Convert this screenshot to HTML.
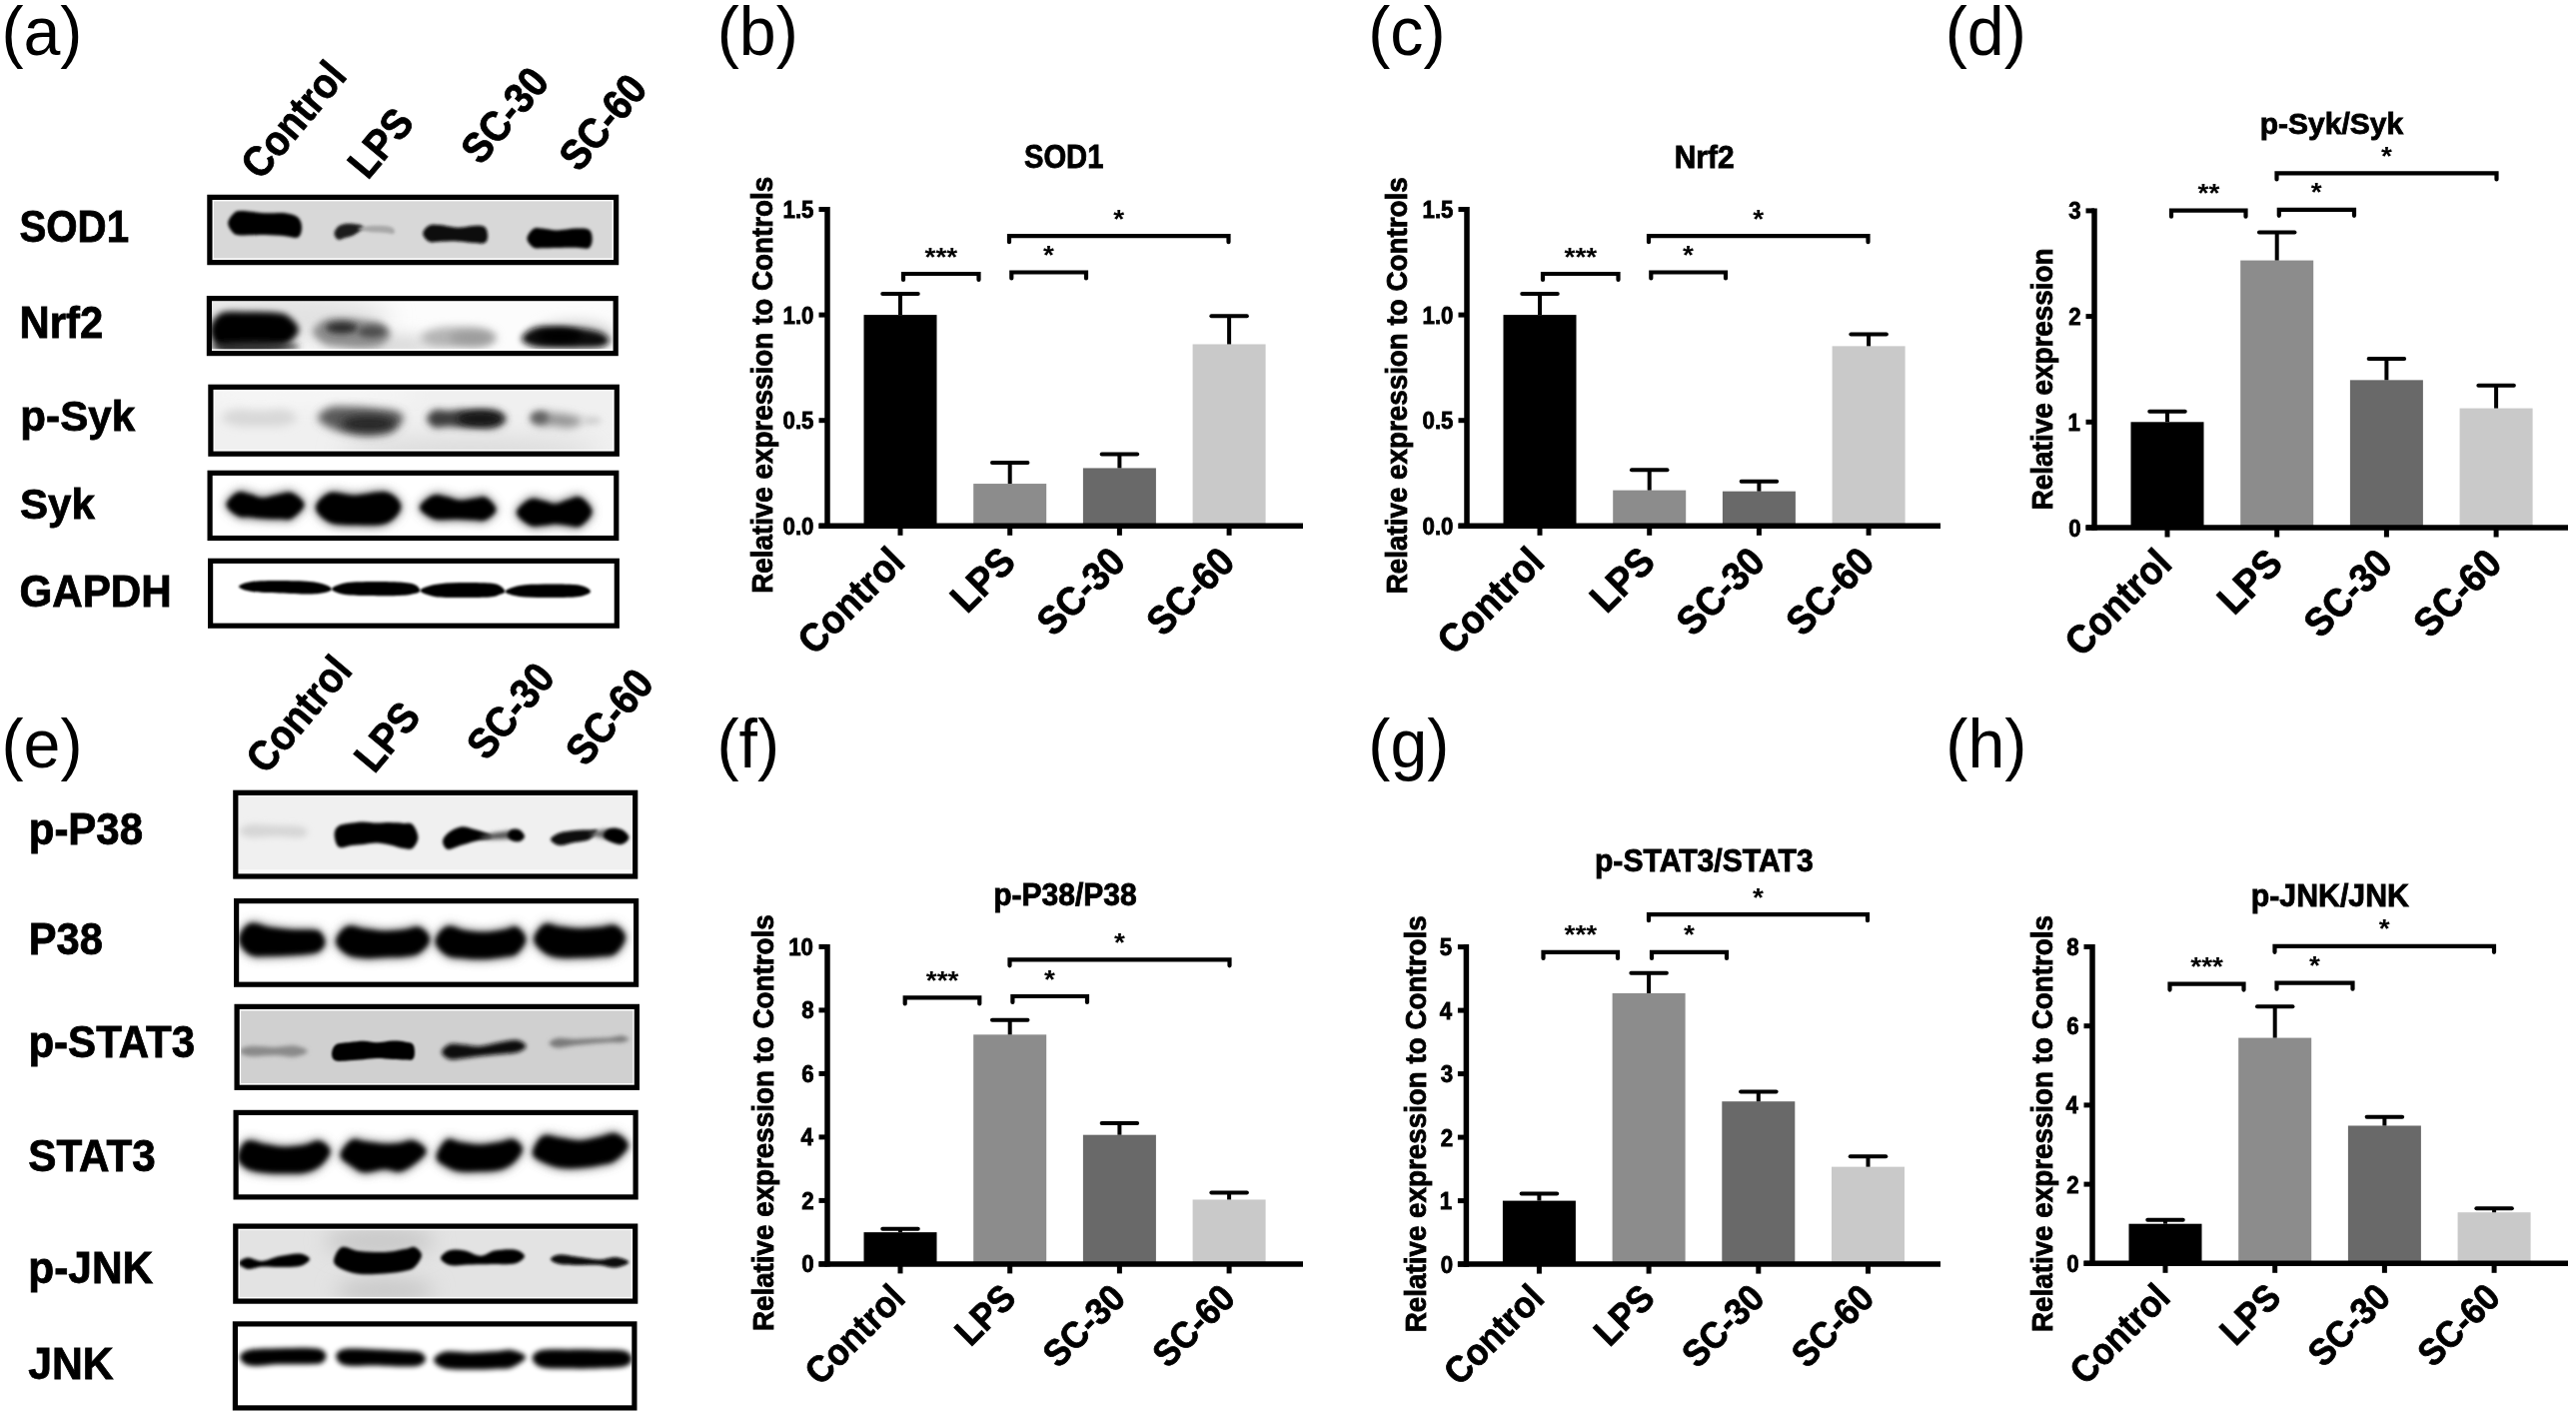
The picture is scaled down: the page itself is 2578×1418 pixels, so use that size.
<!DOCTYPE html><html><head><meta charset="utf-8"><style>html,body{margin:0;padding:0;background:#fff;width:2578px;height:1418px;overflow:hidden;position:relative}</style></head><body><svg width="2578" height="1418" viewBox="0 0 2578 1418" style="position:absolute;left:0;top:0;filter:grayscale(1)">
<defs>
<filter id="b1" x="-50%" y="-150%" width="200%" height="400%"><feGaussianBlur stdDeviation="1"/></filter>
<filter id="b1_2" x="-50%" y="-150%" width="200%" height="400%"><feGaussianBlur stdDeviation="1.2"/></filter>
<filter id="b1_5" x="-50%" y="-150%" width="200%" height="400%"><feGaussianBlur stdDeviation="1.5"/></filter>
<filter id="b2" x="-50%" y="-150%" width="200%" height="400%"><feGaussianBlur stdDeviation="2"/></filter>
<filter id="b2_5" x="-50%" y="-150%" width="200%" height="400%"><feGaussianBlur stdDeviation="2.5"/></filter>
<filter id="b3" x="-50%" y="-150%" width="200%" height="400%"><feGaussianBlur stdDeviation="3"/></filter>
<filter id="b3_5" x="-50%" y="-150%" width="200%" height="400%"><feGaussianBlur stdDeviation="3.5"/></filter>
<filter id="b4" x="-50%" y="-150%" width="200%" height="400%"><feGaussianBlur stdDeviation="4"/></filter>
<filter id="b5" x="-50%" y="-150%" width="200%" height="400%"><feGaussianBlur stdDeviation="5"/></filter>
<filter id="b6" x="-50%" y="-150%" width="200%" height="400%"><feGaussianBlur stdDeviation="6"/></filter>
<filter id="b8" x="-50%" y="-150%" width="200%" height="400%"><feGaussianBlur stdDeviation="8"/></filter>
<filter id="b10" x="-50%" y="-150%" width="200%" height="400%"><feGaussianBlur stdDeviation="10"/></filter>
<filter id="b12" x="-50%" y="-150%" width="200%" height="400%"><feGaussianBlur stdDeviation="12"/></filter>
</defs>
<rect x="0" y="0" width="2578" height="1418" fill="#fff"/>
<style>text[font-weight="bold"]{stroke:#000;stroke-width:0.8px}</style><g font-family="Liberation Sans, sans-serif" fill="#000">
<text transform="translate(1.42,55) scale(0.975,1)" font-size="68" font-weight="normal">(a)</text>
<text transform="translate(717.72,55) scale(0.975,1)" font-size="68" font-weight="normal">(b)</text>
<text transform="translate(1369.22,55) scale(0.975,1)" font-size="68" font-weight="normal">(c)</text>
<text transform="translate(1946.72,55) scale(0.975,1)" font-size="68" font-weight="normal">(d)</text>
<text transform="translate(1.52,768) scale(0.975,1)" font-size="68" font-weight="normal">(e)</text>
<text transform="translate(717.42,768) scale(0.975,1)" font-size="68" font-weight="normal">(f)</text>
<text transform="translate(1369.32,768) scale(0.975,1)" font-size="68" font-weight="normal">(g)</text>
<text transform="translate(1947.32,768) scale(0.975,1)" font-size="68" font-weight="normal">(h)</text>
<text transform="translate(19.42,242.20) scale(0.8892,1)" font-size="45.29" font-weight="bold">SOD1</text>
<text transform="translate(19.61,337.70) scale(0.9622,1)" font-size="43.45" font-weight="bold">Nrf2</text>
<text transform="translate(20.36,430.50) scale(0.9798,1)" font-size="43.03" font-weight="bold">p-Syk</text>
<text transform="translate(20.02,518.50) scale(0.9787,1)" font-size="43.03" font-weight="bold">Syk</text>
<text transform="translate(19.41,606.50) scale(0.9468,1)" font-size="44.57" font-weight="bold">GAPDH</text>
<text transform="translate(348.70,76.80) rotate(-50) scale(0.9000,1)" font-size="42.70" font-weight="bold" text-anchor="end">Control</text>
<text transform="translate(416.00,123.80) rotate(-50) scale(0.9000,1)" font-size="42.70" font-weight="bold" text-anchor="end">LPS</text>
<text transform="translate(551.30,83.00) rotate(-50) scale(0.9000,1)" font-size="42.70" font-weight="bold" text-anchor="end">SC-30</text>
<text transform="translate(649.60,90.00) rotate(-50) scale(0.9000,1)" font-size="42.70" font-weight="bold" text-anchor="end">SC-60</text>
<clipPath id="c1"><rect x="212.5" y="200.0" width="401.5" height="60.0"/></clipPath>
<rect x="207.3" y="194.8" width="411.9" height="70.4" fill="#d8d8d8"/>
<g clip-path="url(#c1)">
<path d="M228.2,223.4 C228.2,220.0 231.8,215.3 234.2,213.2 C236.6,211.1 237.6,211.0 242.7,211.0 C247.8,211.0 257.8,212.8 264.9,213.2 C272.0,213.6 279.8,212.5 285.4,213.2 C290.9,213.9 295.4,215.1 298.2,217.5 C301.0,219.9 302.0,224.4 302.0,227.7 C302.0,231.0 301.0,236.1 298.2,237.5 C295.4,238.9 290.9,236.6 285.4,236.2 C279.8,235.8 272.0,235.1 264.9,235.0 C257.8,234.9 247.8,235.6 242.7,235.4 C237.6,235.2 236.6,235.7 234.2,233.7 C231.8,231.7 228.2,226.8 228.2,223.4 Z" fill="#000" filter="url(#b1_5)"/>
<path d="M334.5,233.7 C334.5,231.5 336.5,228.4 338.3,226.8 C340.1,225.2 342.6,224.4 345.2,223.9 C347.8,223.4 351.1,223.7 353.7,223.9 C356.2,224.1 358.8,224.4 360.5,225.1 C362.2,225.8 364.0,227.0 364.0,228.0 C364.0,229.0 362.2,229.9 360.5,231.1 C358.8,232.3 356.2,234.2 353.7,235.4 C351.1,236.6 347.8,237.3 345.2,238.0 C342.6,238.7 340.1,240.4 338.3,239.7 C336.5,239.0 334.5,235.8 334.5,233.7 Z" fill="#1a1a1a" filter="url(#b1_5)"/>
<path d="M358.0,229.0 C358.0,228.0 365.5,226.5 370.0,226.0 C374.5,225.5 381.2,225.7 385.0,226.0 C388.8,226.3 391.3,227.0 393.0,228.0 C394.7,229.0 395.0,231.0 395.0,232.0 C395.0,233.0 394.7,233.8 393.0,234.0 C391.3,234.2 388.8,233.3 385.0,233.0 C381.2,232.7 374.5,232.7 370.0,232.0 C365.5,231.3 358.0,230.0 358.0,229.0 Z" fill="#a8a8a8" filter="url(#b1_5)"/>
<path d="M423.2,233.7 C423.2,231.0 426.8,227.0 429.6,225.6 C432.4,224.1 435.2,224.7 439.9,225.1 C444.6,225.5 452.1,227.6 457.8,227.7 C463.5,227.8 469.4,226.0 474.0,225.9 C478.6,225.9 482.8,225.5 485.1,227.2 C487.5,229.0 488.1,233.6 488.1,236.2 C488.1,238.8 487.5,241.9 485.1,243.1 C482.8,244.2 478.6,243.4 474.0,243.1 C469.4,242.8 463.5,241.6 457.8,241.4 C452.1,241.2 444.6,241.7 439.9,241.8 C435.2,241.9 432.4,243.2 429.6,241.8 C426.8,240.5 423.2,236.4 423.2,233.7 Z" fill="#0c0c0c" filter="url(#b1_5)"/>
<path d="M527.4,238.8 C527.4,235.7 531.3,230.7 533.8,229.0 C536.3,227.3 538.4,228.3 542.4,228.6 C546.4,228.8 552.0,230.5 557.7,230.5 C563.4,230.5 571.2,228.7 576.5,228.6 C581.8,228.5 586.6,228.1 589.3,229.8 C592.0,231.6 592.7,235.7 592.7,238.8 C592.7,241.9 592.0,246.7 589.3,248.2 C586.6,249.7 581.8,247.8 576.5,247.8 C571.2,247.7 563.4,247.9 557.7,248.0 C552.0,248.1 546.4,248.2 542.4,248.2 C538.4,248.2 536.3,249.3 533.8,247.8 C531.3,246.2 527.4,241.9 527.4,238.8 Z" fill="#000" filter="url(#b1_5)"/>
</g>
<rect x="212.5" y="258.4" width="401.5" height="1.6" fill="#fff"/>
<rect x="212.5" y="200.0" width="401.5" height="1.4" fill="#fff"/>
<rect x="212.5" y="200.0" width="1.4" height="60.0" fill="#fff"/>
<rect x="612.6" y="200.0" width="1.4" height="60.0" fill="#fff"/>
<rect x="209.90" y="197.40" width="406.70" height="65.20" fill="none" stroke="#000" stroke-width="5.2"/>
<clipPath id="c2"><rect x="212.0" y="301.2" width="401.6" height="49.8"/></clipPath>
<rect x="206.8" y="296.0" width="412.0" height="60.2" fill="#fcfcfc"/>
<g clip-path="url(#c2)">
<ellipse cx="280.0" cy="318.0" rx="110.0" ry="26.0" fill="#e2e2e2" filter="url(#b12)"/>
<ellipse cx="380.0" cy="345.0" rx="60.0" ry="10.0" fill="#d6d6d6" filter="url(#b8)"/>
<path d="M210.0,331.0 C210.0,325.2 214.5,317.2 220.0,314.0 C225.5,310.8 234.2,312.2 243.0,312.0 C251.8,311.8 265.5,311.8 273.0,312.5 C280.5,313.2 283.7,313.1 288.0,316.0 C292.3,318.9 299.0,325.3 299.0,330.0 C299.0,334.7 292.3,341.0 288.0,344.0 C283.7,347.0 280.5,347.0 273.0,348.0 C265.5,349.0 251.8,349.8 243.0,350.0 C234.2,350.2 225.5,352.2 220.0,349.0 C214.5,345.8 210.0,336.8 210.0,331.0 Z" fill="#000" filter="url(#b3)"/>
<ellipse cx="255.0" cy="347.0" rx="45.0" ry="5.0" fill="#333" filter="url(#b3)"/>
<path d="M313.0,332.0 C313.0,328.0 319.7,322.3 325.0,320.0 C330.3,317.7 338.3,318.0 345.0,318.0 C351.7,318.0 358.8,319.2 365.0,320.0 C371.2,320.8 377.7,320.7 382.0,323.0 C386.3,325.3 391.0,330.3 391.0,334.0 C391.0,337.7 386.3,342.7 382.0,345.0 C377.7,347.3 371.2,347.7 365.0,348.0 C358.8,348.3 351.7,347.7 345.0,347.0 C338.3,346.3 330.3,346.5 325.0,344.0 C319.7,341.5 313.0,336.0 313.0,332.0 Z" fill="#8e8e8e" filter="url(#b3_5)"/>
<ellipse cx="342.0" cy="328.0" rx="16.0" ry="6.0" fill="#2e2e2e" filter="url(#b3)"/>
<ellipse cx="372.0" cy="332.0" rx="14.0" ry="6.0" fill="#4e4e4e" filter="url(#b3)"/>
<path d="M421.0,338.0 C421.0,335.0 428.5,330.8 435.0,329.0 C441.5,327.2 451.7,327.0 460.0,327.0 C468.3,327.0 478.8,327.2 485.0,329.0 C491.2,330.8 497.0,335.0 497.0,338.0 C497.0,341.0 491.2,345.3 485.0,347.0 C478.8,348.7 468.3,348.0 460.0,348.0 C451.7,348.0 441.5,348.7 435.0,347.0 C428.5,345.3 421.0,341.0 421.0,338.0 Z" fill="#b4b4b4" filter="url(#b4)"/>
<ellipse cx="472.0" cy="338.0" rx="22.0" ry="6.0" fill="#9a9a9a" filter="url(#b4)"/>
<ellipse cx="575.0" cy="334.0" rx="40.0" ry="14.0" fill="#d8d8d8" filter="url(#b6)"/>
<path d="M522.0,339.0 C522.0,335.8 528.7,330.0 535.0,328.0 C541.3,326.0 551.7,326.8 560.0,327.0 C568.3,327.2 578.0,328.0 585.0,329.0 C592.0,330.0 597.8,331.0 602.0,333.0 C606.2,335.0 610.0,338.7 610.0,341.0 C610.0,343.3 606.2,345.8 602.0,347.0 C597.8,348.2 592.0,347.8 585.0,348.0 C578.0,348.2 568.3,348.2 560.0,348.0 C551.7,347.8 541.3,348.5 535.0,347.0 C528.7,345.5 522.0,342.2 522.0,339.0 Z" fill="#101010" filter="url(#b3)"/>
<ellipse cx="560.0" cy="336.0" rx="22.0" ry="7.0" fill="#000" filter="url(#b3)"/>
</g>
<rect x="212.0" y="349.4" width="401.6" height="1.6" fill="#fff"/>
<rect x="209.40" y="298.60" width="406.80" height="55.00" fill="none" stroke="#000" stroke-width="5.2"/>
<clipPath id="c3"><rect x="213.5" y="389.9" width="401.2" height="61.7"/></clipPath>
<rect x="208.3" y="384.7" width="411.6" height="72.1" fill="#f0f0f0"/>
<g clip-path="url(#c3)">
<ellipse cx="300.0" cy="395.0" rx="120.0" ry="10.0" fill="#f8f8f8" filter="url(#b10)"/>
<ellipse cx="470.0" cy="452.0" rx="130.0" ry="14.0" fill="#d9d9d9" filter="url(#b12)"/>
<path d="M221.7,418.0 C221.7,415.3 228.6,411.2 235.0,410.0 C241.4,408.8 251.7,411.0 260.0,411.0 C268.3,411.0 278.8,408.8 285.0,410.0 C291.2,411.2 297.0,415.3 297.0,418.0 C297.0,420.7 291.2,424.5 285.0,426.0 C278.8,427.5 268.3,427.0 260.0,427.0 C251.7,427.0 241.4,427.5 235.0,426.0 C228.6,424.5 221.7,420.7 221.7,418.0 Z" fill="#d8d8d8" filter="url(#b4)"/>
<path d="M318.0,418.0 C318.0,414.7 324.7,409.8 330.0,408.0 C335.3,406.2 343.3,407.0 350.0,407.0 C356.7,407.0 363.3,407.5 370.0,408.0 C376.7,408.5 385.0,409.2 390.0,410.0 C395.0,410.8 397.7,411.7 400.0,413.0 C402.3,414.3 404.0,416.0 404.0,418.0 C404.0,420.0 402.3,422.5 400.0,425.0 C397.7,427.5 395.0,431.2 390.0,433.0 C385.0,434.8 376.7,435.8 370.0,436.0 C363.3,436.2 356.7,435.3 350.0,434.0 C343.3,432.7 335.3,430.7 330.0,428.0 C324.7,425.3 318.0,421.3 318.0,418.0 Z" fill="#5a5a5a" filter="url(#b4)"/>
<ellipse cx="369.0" cy="424.0" rx="27.0" ry="8.0" fill="#262626" filter="url(#b4)"/>
<path d="M427.0,419.0 C427.0,416.1 431.5,411.7 435.0,410.3 C438.5,408.9 443.0,411.0 448.0,410.9 C453.0,410.8 457.2,409.7 465.0,409.5 C472.8,409.3 488.0,408.1 495.0,409.7 C502.0,411.3 507.0,415.9 507.0,419.0 C507.0,422.1 502.0,426.9 495.0,428.5 C488.0,430.1 472.8,428.5 465.0,428.3 C457.2,428.1 453.0,427.2 448.0,427.1 C443.0,427.0 438.5,429.2 435.0,427.9 C431.5,426.5 427.0,421.9 427.0,419.0 Z" fill="#3c3c3c" filter="url(#b3_5)"/>
<ellipse cx="480.0" cy="419.0" rx="22.0" ry="7.0" fill="#161616" filter="url(#b3)"/>
<path d="M530.5,419.0 C530.5,416.5 536.4,412.5 540.0,411.5 C543.6,410.5 547.0,412.4 552.0,413.0 C557.0,413.6 564.7,413.7 570.0,415.0 C575.3,416.3 584.0,418.8 584.0,421.0 C584.0,423.2 575.3,427.2 570.0,428.0 C564.7,428.8 557.0,426.2 552.0,426.0 C547.0,425.8 543.6,427.7 540.0,426.5 C536.4,425.3 530.5,421.5 530.5,419.0 Z" fill="#959595" filter="url(#b4)"/>
<ellipse cx="540.0" cy="418.0" rx="9.0" ry="6.0" fill="#606060" filter="url(#b3)"/>
<ellipse cx="592.0" cy="421.0" rx="10.0" ry="4.0" fill="#cfcfcf" filter="url(#b3)"/>
</g>
<rect x="213.5" y="450.0" width="401.2" height="1.6" fill="#fff"/>
<rect x="213.5" y="389.9" width="401.2" height="1.4" fill="#fff"/>
<rect x="213.5" y="389.9" width="1.4" height="61.7" fill="#fff"/>
<rect x="613.3" y="389.9" width="1.4" height="61.7" fill="#fff"/>
<rect x="210.90" y="387.30" width="406.40" height="66.90" fill="none" stroke="#000" stroke-width="5.2"/>
<clipPath id="c4"><rect x="212.7" y="475.9" width="401.5" height="60.0"/></clipPath>
<rect x="207.5" y="470.7" width="411.9" height="70.4" fill="#ffffff"/>
<g clip-path="url(#c4)">
<path d="M225.4,505.0 C225.4,500.5 233.9,493.0 238.0,491.0 C242.1,489.0 245.8,491.9 250.0,492.8 C254.2,493.7 258.0,496.4 263.0,496.4 C268.0,496.4 275.2,493.6 280.0,492.8 C284.8,492.0 287.7,489.6 292.0,491.6 C296.3,493.6 305.6,500.2 305.6,505.0 C305.6,509.8 296.3,517.7 292.0,520.4 C287.7,523.1 284.8,521.0 280.0,521.0 C275.2,521.0 268.0,520.7 263.0,520.4 C258.0,520.1 254.2,519.6 250.0,519.2 C245.8,518.8 242.1,520.4 238.0,518.0 C233.9,515.6 225.4,509.5 225.4,505.0 Z" fill="#707070" filter="url(#b5)"/>
<path d="M226.8,505.0 C226.8,501.2 234.1,494.7 238.0,493.0 C241.9,491.3 245.8,493.9 250.0,494.8 C254.2,495.7 258.0,498.4 263.0,498.4 C268.0,498.4 275.2,495.6 280.0,494.8 C284.8,494.0 288.0,491.9 292.0,493.6 C296.0,495.3 304.2,500.9 304.2,505.0 C304.2,509.1 296.0,516.1 292.0,518.4 C288.0,520.7 284.8,519.0 280.0,519.0 C275.2,519.0 268.0,518.7 263.0,518.4 C258.0,518.1 254.2,517.6 250.0,517.2 C245.8,516.8 241.9,518.0 238.0,516.0 C234.1,514.0 226.8,508.8 226.8,505.0 Z" fill="#000" filter="url(#b2)"/>
<path d="M314.9,508.0 C314.9,502.5 323.3,493.9 330.0,491.6 C336.7,489.3 345.5,494.1 355.0,494.0 C364.5,493.9 379.1,488.8 387.0,491.0 C394.9,493.2 402.4,501.3 402.4,507.0 C402.4,512.7 394.9,521.9 387.0,525.2 C379.1,528.5 364.5,527.1 355.0,527.0 C345.5,526.9 336.7,527.8 330.0,524.6 C323.3,521.4 314.9,513.5 314.9,508.0 Z" fill="#707070" filter="url(#b5)"/>
<path d="M316.3,508.0 C316.3,503.2 323.6,495.6 330.0,493.6 C336.4,491.6 345.5,496.1 355.0,496.0 C364.5,495.9 379.3,491.2 387.0,493.0 C394.7,494.8 401.0,502.0 401.0,507.0 C401.0,512.0 394.7,520.2 387.0,523.2 C379.3,526.2 364.5,525.1 355.0,525.0 C345.5,524.9 336.4,525.4 330.0,522.6 C323.6,519.8 316.3,512.8 316.3,508.0 Z" fill="#000" filter="url(#b2)"/>
<path d="M418.9,508.0 C418.9,503.5 428.8,496.0 433.7,494.0 C438.6,492.0 443.6,494.9 448.0,495.8 C452.4,496.7 455.9,498.9 460.4,499.1 C464.9,499.3 470.7,497.5 475.0,497.0 C479.3,496.5 482.2,493.9 486.0,496.1 C489.8,498.3 497.6,505.7 497.6,510.0 C497.6,514.3 489.8,520.0 486.0,522.0 C482.2,524.0 479.3,522.1 475.0,522.0 C470.7,521.9 464.9,521.5 460.4,521.4 C455.9,521.3 452.4,521.5 448.0,521.4 C443.6,521.3 438.6,523.0 433.7,520.8 C428.8,518.6 418.9,512.5 418.9,508.0 Z" fill="#707070" filter="url(#b5)"/>
<path d="M420.3,508.0 C420.3,504.2 429.1,497.7 433.7,496.0 C438.3,494.3 443.6,496.9 448.0,497.8 C452.4,498.7 455.9,500.9 460.4,501.1 C464.9,501.3 470.7,499.5 475.0,499.0 C479.3,498.5 482.5,496.3 486.0,498.1 C489.5,499.9 496.2,506.4 496.2,510.0 C496.2,513.6 489.5,518.3 486.0,520.0 C482.5,521.7 479.3,520.1 475.0,520.0 C470.7,519.9 464.9,519.5 460.4,519.4 C455.9,519.3 452.4,519.5 448.0,519.4 C443.6,519.3 438.3,520.7 433.7,518.8 C429.1,516.9 420.3,511.8 420.3,508.0 Z" fill="#000" filter="url(#b2)"/>
<path d="M515.9,513.0 C515.9,508.1 525.8,500.0 530.5,497.8 C535.2,495.6 539.8,498.8 544.0,499.6 C548.2,500.4 551.6,502.8 555.6,502.6 C559.6,502.4 563.8,499.5 568.0,498.4 C572.2,497.3 576.7,493.7 581.0,496.0 C585.3,498.3 593.6,506.7 593.6,512.0 C593.6,517.3 585.3,525.4 581.0,528.0 C576.7,530.6 572.2,527.8 568.0,527.4 C563.8,527.0 559.6,525.9 555.6,525.9 C551.6,525.9 548.2,527.1 544.0,527.4 C539.8,527.6 535.2,529.8 530.5,527.4 C525.8,525.0 515.9,517.9 515.9,513.0 Z" fill="#707070" filter="url(#b5)"/>
<path d="M517.3,513.0 C517.3,508.7 526.0,501.7 530.5,499.8 C535.0,497.9 539.8,500.8 544.0,501.6 C548.2,502.4 551.6,504.8 555.6,504.6 C559.6,504.4 563.8,501.5 568.0,500.4 C572.2,499.3 577.0,496.1 581.0,498.0 C585.0,499.9 592.2,507.3 592.2,512.0 C592.2,516.7 585.0,523.8 581.0,526.0 C577.0,528.2 572.2,525.8 568.0,525.4 C563.8,525.0 559.6,523.9 555.6,523.9 C551.6,523.9 548.2,525.1 544.0,525.4 C539.8,525.6 535.0,527.5 530.5,525.4 C526.0,523.3 517.3,517.3 517.3,513.0 Z" fill="#000" filter="url(#b2)"/>
</g>
<rect x="210.10" y="473.30" width="406.70" height="65.20" fill="none" stroke="#000" stroke-width="5.2"/>
<clipPath id="c5"><rect x="213.2" y="563.9" width="401.5" height="59.7"/></clipPath>
<rect x="208.0" y="558.7" width="411.9" height="70.1" fill="#ffffff"/>
<g clip-path="url(#c5)">
<path d="M239.0,587.0 C239.0,585.3 245.2,583.0 252.0,582.0 C258.8,581.0 270.3,581.0 280.0,581.0 C289.7,581.0 302.5,581.3 310.0,582.0 C317.5,582.7 321.3,583.8 325.0,585.0 C328.7,586.2 332.0,588.2 332.0,589.5 C332.0,590.8 328.7,592.2 325.0,593.0 C321.3,593.8 317.5,594.4 310.0,594.5 C302.5,594.6 289.7,593.9 280.0,593.5 C270.3,593.1 258.8,593.1 252.0,592.0 C245.2,590.9 239.0,588.7 239.0,587.0 Z" fill="#000" filter="url(#b1_2)"/>
<path d="M332.0,589.5 C332.0,587.6 338.7,584.8 345.0,583.5 C351.3,582.2 360.8,582.2 370.0,582.0 C379.2,581.8 392.5,582.0 400.0,582.5 C407.5,583.0 411.6,583.6 415.0,585.0 C418.4,586.4 420.5,589.5 420.5,591.0 C420.5,592.5 418.4,593.2 415.0,594.0 C411.6,594.8 407.5,595.7 400.0,596.0 C392.5,596.3 379.2,596.2 370.0,596.0 C360.8,595.8 351.3,596.1 345.0,595.0 C338.7,593.9 332.0,591.4 332.0,589.5 Z" fill="#000" filter="url(#b1_2)"/>
<path d="M420.5,591.0 C420.5,589.0 428.4,586.3 435.0,585.0 C441.6,583.7 450.8,583.2 460.0,583.0 C469.2,582.8 483.3,583.0 490.0,583.5 C496.7,584.0 497.4,584.6 500.0,586.0 C502.6,587.4 505.5,590.5 505.5,592.0 C505.5,593.5 502.6,594.1 500.0,595.0 C497.4,595.9 496.7,597.0 490.0,597.5 C483.3,598.0 469.2,598.1 460.0,598.0 C450.8,597.9 441.6,598.2 435.0,597.0 C428.4,595.8 420.5,593.0 420.5,591.0 Z" fill="#000" filter="url(#b1_2)"/>
<path d="M505.5,592.0 C505.5,590.2 513.4,587.2 520.0,586.0 C526.6,584.8 535.8,584.7 545.0,584.5 C554.2,584.3 568.0,584.4 575.0,585.0 C582.0,585.6 584.3,586.8 587.0,588.0 C589.7,589.2 591.0,590.8 591.0,592.0 C591.0,593.2 589.7,594.1 587.0,595.0 C584.3,595.9 582.0,597.0 575.0,597.5 C568.0,598.0 554.2,598.1 545.0,598.0 C535.8,597.9 526.6,598.0 520.0,597.0 C513.4,596.0 505.5,593.8 505.5,592.0 Z" fill="#000" filter="url(#b1_2)"/>
</g>
<rect x="210.60" y="561.30" width="406.70" height="64.90" fill="none" stroke="#000" stroke-width="5.2"/>
<text transform="translate(28.76,844.80) scale(0.9474,1)" font-size="44.29" font-weight="bold">p-P38</text>
<text transform="translate(28.78,954.80) scale(0.9400,1)" font-size="44.29" font-weight="bold">P38</text>
<text transform="translate(28.38,1057.90) scale(0.9410,1)" font-size="44.71" font-weight="bold">p-STAT3</text>
<text transform="translate(28.29,1171.50) scale(0.9531,1)" font-size="44.29" font-weight="bold">STAT3</text>
<text transform="translate(28.30,1283.60) scale(0.9664,1)" font-size="43.91" font-weight="bold">p-JNK</text>
<text transform="translate(28.14,1380.10) scale(0.9632,1)" font-size="44.35" font-weight="bold">JNK</text>
<text transform="translate(354.10,671.70) rotate(-50) scale(0.9000,1)" font-size="42.70" font-weight="bold" text-anchor="end">Control</text>
<text transform="translate(422.50,718.00) rotate(-50) scale(0.9000,1)" font-size="42.70" font-weight="bold" text-anchor="end">LPS</text>
<text transform="translate(557.00,679.00) rotate(-50) scale(0.9000,1)" font-size="42.70" font-weight="bold" text-anchor="end">SC-30</text>
<text transform="translate(656.00,685.00) rotate(-50) scale(0.9000,1)" font-size="42.70" font-weight="bold" text-anchor="end">SC-60</text>
<clipPath id="c6"><rect x="238.4" y="795.9" width="394.7" height="78.5"/></clipPath>
<rect x="233.2" y="790.7" width="405.1" height="88.9" fill="#f0f0f0"/>
<g clip-path="url(#c6)">
<path d="M239.7,832.0 C239.7,829.8 244.1,826.0 250.0,825.0 C255.9,824.0 266.7,825.7 275.0,826.0 C283.3,826.3 294.5,825.8 300.0,827.0 C305.5,828.2 308.0,831.2 308.0,833.0 C308.0,834.8 305.5,837.3 300.0,838.0 C294.5,838.7 283.3,837.0 275.0,837.0 C266.7,837.0 255.9,838.8 250.0,838.0 C244.1,837.2 239.7,834.2 239.7,832.0 Z" fill="#d6d6d6" filter="url(#b3)"/>
<path d="M334.6,835.0 C334.6,831.5 336.1,828.5 339.0,826.6 C341.9,824.7 347.8,824.3 352.0,823.6 C356.2,822.9 359.8,822.5 364.0,822.5 C368.2,822.5 372.7,823.5 377.0,823.6 C381.3,823.7 385.5,823.0 390.0,823.0 C394.5,823.1 400.2,823.5 404.0,823.9 C407.8,824.2 410.6,822.9 413.0,825.2 C415.4,827.6 418.4,834.1 418.4,838.0 C418.4,841.9 415.4,846.9 413.0,848.7 C410.6,850.6 407.8,849.5 404.0,849.0 C400.2,848.5 394.5,846.3 390.0,845.4 C385.5,844.5 381.3,843.6 377.0,843.5 C372.7,843.4 368.2,844.5 364.0,844.9 C359.8,845.3 356.2,845.5 352.0,846.0 C347.8,846.4 341.9,849.5 339.0,847.6 C336.1,845.8 334.6,838.5 334.6,835.0 Z" fill="#000" filter="url(#b1_5)"/>
<path d="M443.0,842.0 C443.0,839.3 445.0,836.4 448.0,834.0 C451.0,831.6 456.5,828.2 461.0,827.5 C465.5,826.8 471.0,829.1 475.0,830.0 C479.0,830.9 482.5,832.2 485.0,833.0 C487.5,833.8 488.7,834.3 490.0,835.0 C491.3,835.7 493.0,836.3 493.0,837.0 C493.0,837.7 491.3,838.5 490.0,839.0 C488.7,839.5 487.5,839.5 485.0,840.0 C482.5,840.5 479.0,841.0 475.0,842.0 C471.0,843.0 465.5,844.7 461.0,846.0 C456.5,847.3 451.0,850.7 448.0,850.0 C445.0,849.3 443.0,844.7 443.0,842.0 Z" fill="#000" filter="url(#b1_5)"/>
<path d="M480.0,838.0 C480.0,837.1 485.8,835.5 490.0,834.5 C494.2,833.5 501.3,832.4 505.0,832.0 C508.7,831.6 510.5,831.3 512.0,832.0 C513.5,832.7 514.0,834.8 514.0,836.0 C514.0,837.2 513.5,838.4 512.0,839.0 C510.5,839.6 508.7,839.3 505.0,839.5 C501.3,839.7 494.2,840.2 490.0,840.0 C485.8,839.8 480.0,838.9 480.0,838.0 Z" fill="#555" filter="url(#b2)"/>
<path d="M508.0,836.0 C508.0,834.2 510.0,830.9 512.0,830.0 C514.0,829.1 517.8,829.3 520.0,830.5 C522.2,831.7 525.0,835.1 525.0,837.0 C525.0,838.9 522.2,841.3 520.0,842.0 C517.8,842.7 514.0,842.0 512.0,841.0 C510.0,840.0 508.0,837.8 508.0,836.0 Z" fill="#000" filter="url(#b1_5)"/>
<path d="M551.0,840.0 C551.0,837.9 556.0,835.0 560.0,833.5 C564.0,832.0 570.0,831.5 575.0,831.0 C580.0,830.5 586.2,830.5 590.0,830.5 C593.8,830.5 598.0,829.4 598.0,831.0 C598.0,832.6 593.8,838.0 590.0,840.0 C586.2,842.0 580.0,842.0 575.0,843.0 C570.0,844.0 564.0,846.5 560.0,846.0 C556.0,845.5 551.0,842.1 551.0,840.0 Z" fill="#0a0a0a" filter="url(#b1_5)"/>
<path d="M590.0,835.0 C590.0,833.8 597.0,831.8 600.0,831.0 C603.0,830.2 606.2,829.3 608.0,830.0 C609.8,830.7 611.0,833.3 611.0,835.0 C611.0,836.7 609.8,839.5 608.0,840.0 C606.2,840.5 603.0,838.8 600.0,838.0 C597.0,837.2 590.0,836.2 590.0,835.0 Z" fill="#666" filter="url(#b2)"/>
<path d="M604.0,836.0 C604.0,833.8 607.0,830.0 610.0,829.0 C613.0,828.0 618.8,828.5 622.0,830.0 C625.2,831.5 629.5,835.5 629.5,838.0 C629.5,840.5 625.2,844.3 622.0,845.0 C618.8,845.7 613.0,843.5 610.0,842.0 C607.0,840.5 604.0,838.2 604.0,836.0 Z" fill="#000" filter="url(#b1_5)"/>
</g>
<rect x="238.4" y="870.2" width="394.7" height="4.2" fill="#fafafa"/>
<rect x="235.80" y="793.30" width="399.90" height="83.70" fill="none" stroke="#000" stroke-width="5.2"/>
<clipPath id="c7"><rect x="239.2" y="904.2" width="394.8" height="78.4"/></clipPath>
<rect x="234.0" y="899.0" width="405.2" height="88.8" fill="#ffffff"/>
<g clip-path="url(#c7)">
<path d="M238.2,940.0 C238.2,934.3 244.7,925.0 250.0,922.7 C255.3,920.4 263.3,925.5 270.0,926.5 C276.7,927.5 283.3,928.3 290.0,928.7 C296.7,929.1 305.0,928.7 310.0,929.1 C315.0,929.5 317.3,928.6 320.0,931.0 C322.7,933.3 326.3,939.3 326.3,943.0 C326.3,946.7 322.7,950.9 320.0,953.0 C317.3,955.2 315.0,955.3 310.0,956.0 C305.0,956.8 296.7,957.2 290.0,957.5 C283.3,957.9 276.7,958.4 270.0,958.3 C263.3,958.2 255.3,959.8 250.0,956.8 C244.7,953.8 238.2,945.7 238.2,940.0 Z" fill="#707070" filter="url(#b5)"/>
<path d="M239.6,940.0 C239.6,935.0 244.9,926.6 250.0,924.7 C255.1,922.8 263.3,927.5 270.0,928.5 C276.7,929.5 283.3,930.3 290.0,930.7 C296.7,931.1 305.0,930.7 310.0,931.1 C315.0,931.5 317.5,931.0 320.0,933.0 C322.5,934.9 324.9,940.0 324.9,943.0 C324.9,946.0 322.5,949.2 320.0,951.0 C317.5,952.9 315.0,953.3 310.0,954.0 C305.0,954.8 296.7,955.2 290.0,955.5 C283.3,955.9 276.7,956.4 270.0,956.3 C263.3,956.2 255.1,957.5 250.0,954.8 C244.9,952.1 239.6,945.0 239.6,940.0 Z" fill="#000" filter="url(#b2_5)"/>
<path d="M335.2,942.0 C335.2,936.9 342.0,928.0 347.0,925.7 C352.0,923.4 358.7,927.2 365.0,928.0 C371.3,928.7 378.3,930.1 385.0,930.2 C391.7,930.3 399.2,929.3 405.0,928.7 C410.8,928.1 415.6,924.6 420.0,926.5 C424.4,928.3 431.3,935.2 431.3,940.0 C431.3,944.8 424.4,951.9 420.0,955.0 C415.6,958.2 410.8,958.0 405.0,958.8 C399.2,959.5 391.7,959.3 385.0,959.5 C378.3,959.8 371.3,960.8 365.0,960.3 C358.7,959.8 352.0,959.6 347.0,956.5 C342.0,953.5 335.2,947.1 335.2,942.0 Z" fill="#707070" filter="url(#b5)"/>
<path d="M336.6,942.0 C336.6,937.5 342.3,929.7 347.0,927.7 C351.7,925.7 358.7,929.2 365.0,930.0 C371.3,930.7 378.3,932.1 385.0,932.2 C391.7,932.3 399.2,931.3 405.0,930.7 C410.8,930.1 415.8,926.9 420.0,928.5 C424.2,930.0 429.9,935.9 429.9,940.0 C429.9,944.1 424.2,950.2 420.0,953.0 C415.8,955.8 410.8,956.0 405.0,956.8 C399.2,957.5 391.7,957.3 385.0,957.5 C378.3,957.8 371.3,958.8 365.0,958.3 C358.7,957.8 351.7,957.3 347.0,954.5 C342.3,951.8 336.6,946.5 336.6,942.0 Z" fill="#000" filter="url(#b2_5)"/>
<path d="M434.7,942.0 C434.7,936.7 441.9,927.8 447.0,925.7 C452.1,923.6 458.7,928.5 465.0,929.5 C471.3,930.4 478.3,931.5 485.0,931.3 C491.7,931.2 499.7,929.6 505.0,928.7 C510.3,927.8 513.3,924.2 517.0,926.1 C520.7,928.0 527.3,935.0 527.3,940.0 C527.3,945.0 520.7,952.9 517.0,956.0 C513.3,959.2 510.3,958.2 505.0,959.0 C499.7,959.9 491.7,961.0 485.0,961.3 C478.3,961.5 471.3,961.2 465.0,960.5 C458.7,959.9 452.1,960.6 447.0,957.5 C441.9,954.5 434.7,947.3 434.7,942.0 Z" fill="#707070" filter="url(#b5)"/>
<path d="M436.1,942.0 C436.1,937.4 442.2,929.5 447.0,927.7 C451.8,925.9 458.7,930.5 465.0,931.5 C471.3,932.4 478.3,933.5 485.0,933.3 C491.7,933.2 499.7,931.6 505.0,930.7 C510.3,929.8 513.5,926.5 517.0,928.1 C520.5,929.6 525.9,935.7 525.9,940.0 C525.9,944.3 520.5,951.2 517.0,954.0 C513.5,956.9 510.3,956.2 505.0,957.0 C499.7,957.9 491.7,959.0 485.0,959.3 C478.3,959.5 471.3,959.2 465.0,958.5 C458.7,957.9 451.8,958.3 447.0,955.5 C442.2,952.8 436.1,946.6 436.1,942.0 Z" fill="#000" filter="url(#b2_5)"/>
<path d="M533.3,940.0 C533.3,934.7 540.5,925.6 545.0,923.2 C549.5,920.8 554.2,925.1 560.0,925.8 C565.8,926.6 573.3,927.6 580.0,927.7 C586.7,927.8 594.0,927.1 600.0,926.6 C606.0,926.1 611.5,922.8 616.0,924.7 C620.5,926.6 626.8,932.8 626.8,938.0 C626.8,943.2 620.5,952.2 616.0,955.7 C611.5,959.1 606.0,958.0 600.0,958.7 C594.0,959.4 586.7,959.6 580.0,959.8 C573.3,960.0 565.8,960.6 560.0,959.8 C554.2,959.0 549.5,958.2 545.0,954.9 C540.5,951.6 533.3,945.3 533.3,940.0 Z" fill="#707070" filter="url(#b5)"/>
<path d="M534.7,940.0 C534.7,935.4 540.8,927.2 545.0,925.2 C549.2,923.2 554.2,927.1 560.0,927.8 C565.8,928.6 573.3,929.6 580.0,929.7 C586.7,929.8 594.0,929.1 600.0,928.6 C606.0,928.1 611.8,925.1 616.0,926.7 C620.2,928.3 625.4,933.5 625.4,938.0 C625.4,942.5 620.2,950.6 616.0,953.7 C611.8,956.8 606.0,956.0 600.0,956.7 C594.0,957.4 586.7,957.6 580.0,957.8 C573.3,958.0 565.8,958.6 560.0,957.8 C554.2,957.0 549.2,955.9 545.0,952.9 C540.8,950.0 534.7,944.6 534.7,940.0 Z" fill="#000" filter="url(#b2_5)"/>
</g>
<rect x="236.60" y="901.60" width="400.00" height="83.60" fill="none" stroke="#000" stroke-width="5.2"/>
<clipPath id="c8"><rect x="239.7" y="1010.0" width="395.1" height="75.7"/></clipPath>
<rect x="234.5" y="1004.8" width="405.5" height="86.1" fill="#d0d0d0"/>
<g clip-path="url(#c8)">
<path d="M239.7,1052.0 C239.7,1050.3 244.1,1047.7 250.0,1047.0 C255.9,1046.3 267.5,1048.1 275.0,1048.0 C282.5,1047.9 289.5,1045.8 295.0,1046.5 C300.5,1047.2 308.0,1050.2 308.0,1052.0 C308.0,1053.8 300.5,1056.8 295.0,1057.5 C289.5,1058.2 282.5,1056.1 275.0,1056.0 C267.5,1055.9 255.9,1057.7 250.0,1057.0 C244.1,1056.3 239.7,1053.7 239.7,1052.0 Z" fill="#8a8a8a" filter="url(#b2)"/>
<path d="M332.0,1055.0 C332.0,1052.3 333.0,1047.4 336.0,1045.4 C339.0,1043.4 345.3,1043.6 350.0,1043.0 C354.7,1042.4 359.5,1041.8 364.0,1041.8 C368.5,1041.8 372.2,1043.3 377.0,1043.3 C381.8,1043.2 388.3,1041.7 393.0,1041.5 C397.7,1041.3 401.7,1041.9 405.0,1042.4 C408.3,1043.0 411.3,1043.0 413.0,1044.8 C414.7,1046.6 415.0,1050.5 415.0,1053.0 C415.0,1055.5 414.7,1058.7 413.0,1060.0 C411.3,1061.3 408.3,1060.6 405.0,1060.6 C401.7,1060.6 397.7,1060.2 393.0,1060.0 C388.3,1059.8 381.8,1059.0 377.0,1059.1 C372.2,1059.1 368.5,1059.9 364.0,1060.3 C359.5,1060.7 354.7,1061.0 350.0,1061.2 C345.3,1061.4 339.0,1062.5 336.0,1061.5 C333.0,1060.5 332.0,1057.7 332.0,1055.0 Z" fill="#000" filter="url(#b1_2)"/>
<path d="M442.0,1053.0 C442.0,1050.5 446.2,1046.2 450.0,1045.0 C453.8,1043.8 460.0,1045.2 465.0,1045.5 C470.0,1045.8 474.2,1047.4 480.0,1047.0 C485.8,1046.6 493.7,1044.0 500.0,1043.0 C506.3,1042.0 513.6,1040.3 518.0,1041.0 C522.4,1041.7 526.5,1045.0 526.5,1047.0 C526.5,1049.0 522.4,1051.7 518.0,1053.0 C513.6,1054.3 506.3,1054.3 500.0,1055.0 C493.7,1055.7 485.8,1056.3 480.0,1057.0 C474.2,1057.7 470.0,1058.5 465.0,1059.0 C460.0,1059.5 453.8,1061.0 450.0,1060.0 C446.2,1059.0 442.0,1055.5 442.0,1053.0 Z" fill="#111" filter="url(#b2)"/>
<path d="M549.5,1044.0 C549.5,1042.4 553.8,1039.7 558.0,1039.0 C562.2,1038.3 568.8,1040.0 575.0,1040.0 C581.2,1040.0 589.2,1039.2 595.0,1039.0 C600.8,1038.8 605.5,1038.9 610.0,1038.5 C614.5,1038.1 618.8,1036.2 622.0,1036.5 C625.2,1036.8 629.5,1038.9 629.5,1040.0 C629.5,1041.1 625.2,1042.5 622.0,1043.0 C618.8,1043.5 614.5,1042.8 610.0,1043.0 C605.5,1043.2 600.8,1043.5 595.0,1044.0 C589.2,1044.5 581.2,1045.2 575.0,1046.0 C568.8,1046.8 562.2,1048.8 558.0,1048.5 C553.8,1048.2 549.5,1045.6 549.5,1044.0 Z" fill="#7a7a7a" filter="url(#b2)"/>
</g>
<rect x="239.7" y="1084.1" width="395.1" height="1.6" fill="#fff"/>
<rect x="239.7" y="1010.0" width="395.1" height="1.4" fill="#fff"/>
<rect x="239.7" y="1010.0" width="1.4" height="75.7" fill="#fff"/>
<rect x="633.4" y="1010.0" width="1.4" height="75.7" fill="#fff"/>
<rect x="237.10" y="1007.40" width="400.30" height="80.90" fill="none" stroke="#000" stroke-width="5.2"/>
<clipPath id="c9"><rect x="238.7" y="1116.0" width="394.8" height="79.3"/></clipPath>
<rect x="233.5" y="1110.8" width="405.2" height="89.7" fill="#ffffff"/>
<g clip-path="url(#c9)">
<path d="M237.0,1158.0 C237.0,1152.9 242.3,1142.6 247.0,1140.2 C251.7,1137.8 258.7,1142.4 265.0,1143.4 C271.3,1144.4 278.3,1146.1 285.0,1146.2 C291.7,1146.3 299.2,1145.2 305.0,1144.2 C310.8,1143.2 315.6,1138.9 320.0,1140.2 C324.4,1141.5 331.5,1147.3 331.5,1152.0 C331.5,1156.7 324.4,1164.8 320.0,1168.6 C315.6,1172.4 310.8,1173.8 305.0,1175.0 C299.2,1176.2 291.7,1175.8 285.0,1175.8 C278.3,1175.8 271.3,1175.8 265.0,1175.0 C258.7,1174.2 251.7,1173.8 247.0,1171.0 C242.3,1168.2 237.0,1163.1 237.0,1158.0 Z" fill="#707070" filter="url(#b5)"/>
<path d="M238.4,1158.0 C238.4,1153.5 242.6,1144.3 247.0,1142.2 C251.4,1140.1 258.7,1144.4 265.0,1145.4 C271.3,1146.4 278.3,1148.1 285.0,1148.2 C291.7,1148.3 299.2,1147.2 305.0,1146.2 C310.8,1145.2 315.8,1141.2 320.0,1142.2 C324.2,1143.2 330.1,1147.9 330.1,1152.0 C330.1,1156.1 324.2,1163.1 320.0,1166.6 C315.8,1170.1 310.8,1171.8 305.0,1173.0 C299.2,1174.2 291.7,1173.8 285.0,1173.8 C278.3,1173.8 271.3,1173.8 265.0,1173.0 C258.7,1172.2 251.4,1171.5 247.0,1169.0 C242.6,1166.5 238.4,1162.5 238.4,1158.0 Z" fill="#000" filter="url(#b2_5)"/>
<path d="M339.6,1156.0 C339.6,1151.1 347.8,1141.7 352.0,1139.2 C356.2,1136.7 359.5,1140.1 365.0,1140.8 C370.5,1141.5 379.2,1142.9 385.0,1143.2 C390.8,1143.5 395.2,1142.9 400.0,1142.4 C404.8,1141.9 409.4,1138.4 414.0,1140.0 C418.6,1141.6 427.6,1147.5 427.6,1152.0 C427.6,1156.5 418.6,1163.1 414.0,1166.8 C409.4,1170.5 404.8,1173.2 400.0,1174.0 C395.2,1174.8 390.8,1171.5 385.0,1171.6 C379.2,1171.7 370.5,1175.3 365.0,1174.8 C359.5,1174.3 356.2,1171.5 352.0,1168.4 C347.8,1165.3 339.6,1160.9 339.6,1156.0 Z" fill="#707070" filter="url(#b5)"/>
<path d="M341.0,1156.0 C341.0,1151.8 348.0,1143.4 352.0,1141.2 C356.0,1139.0 359.5,1142.1 365.0,1142.8 C370.5,1143.5 379.2,1144.9 385.0,1145.2 C390.8,1145.5 395.2,1144.9 400.0,1144.4 C404.8,1143.9 409.6,1140.7 414.0,1142.0 C418.4,1143.3 426.2,1148.2 426.2,1152.0 C426.2,1155.8 418.4,1161.5 414.0,1164.8 C409.6,1168.1 404.8,1171.2 400.0,1172.0 C395.2,1172.8 390.8,1169.5 385.0,1169.6 C379.2,1169.7 370.5,1173.3 365.0,1172.8 C359.5,1172.3 356.0,1169.2 352.0,1166.4 C348.0,1163.6 341.0,1160.2 341.0,1156.0 Z" fill="#000" filter="url(#b2_5)"/>
<path d="M435.8,1158.0 C435.8,1153.0 443.0,1141.9 447.0,1139.1 C451.0,1136.4 454.5,1140.7 460.0,1141.5 C465.5,1142.3 473.3,1143.9 480.0,1143.9 C486.7,1143.9 494.3,1142.4 500.0,1141.5 C505.7,1140.6 510.0,1137.3 514.0,1138.7 C518.0,1140.1 523.8,1145.6 523.8,1150.0 C523.8,1154.4 518.0,1161.3 514.0,1165.0 C510.0,1168.7 505.7,1170.7 500.0,1172.2 C494.3,1173.7 486.7,1173.5 480.0,1173.8 C473.3,1174.1 465.5,1174.6 460.0,1173.8 C454.5,1173.0 451.0,1171.6 447.0,1169.0 C443.0,1166.4 435.8,1163.0 435.8,1158.0 Z" fill="#707070" filter="url(#b5)"/>
<path d="M437.2,1158.0 C437.2,1153.7 443.2,1143.5 447.0,1141.1 C450.8,1138.7 454.5,1142.7 460.0,1143.5 C465.5,1144.3 473.3,1145.9 480.0,1145.9 C486.7,1145.9 494.3,1144.4 500.0,1143.5 C505.7,1142.6 510.3,1139.6 514.0,1140.7 C517.7,1141.8 522.4,1146.3 522.4,1150.0 C522.4,1153.7 517.7,1159.6 514.0,1163.0 C510.3,1166.4 505.7,1168.7 500.0,1170.2 C494.3,1171.7 486.7,1171.5 480.0,1171.8 C473.3,1172.1 465.5,1172.6 460.0,1171.8 C454.5,1171.0 450.8,1169.3 447.0,1167.0 C443.2,1164.7 437.2,1162.3 437.2,1158.0 Z" fill="#000" filter="url(#b2_5)"/>
<path d="M532.0,1154.0 C532.0,1149.2 538.3,1138.3 543.0,1135.5 C547.7,1132.7 553.8,1136.4 560.0,1137.1 C566.2,1137.8 573.3,1140.0 580.0,1139.9 C586.7,1139.8 594.0,1137.5 600.0,1136.3 C606.0,1135.1 611.1,1131.1 616.0,1132.7 C620.9,1134.3 629.7,1141.0 629.7,1146.0 C629.7,1151.0 620.9,1159.1 616.0,1162.7 C611.1,1166.3 606.0,1166.2 600.0,1167.5 C594.0,1168.8 586.7,1169.9 580.0,1170.3 C573.3,1170.7 566.2,1170.9 560.0,1169.9 C553.8,1168.9 547.7,1166.9 543.0,1164.3 C538.3,1161.7 532.0,1158.8 532.0,1154.0 Z" fill="#707070" filter="url(#b5)"/>
<path d="M533.4,1154.0 C533.4,1149.9 538.6,1140.0 543.0,1137.5 C547.4,1135.0 553.8,1138.4 560.0,1139.1 C566.2,1139.8 573.3,1142.0 580.0,1141.9 C586.7,1141.8 594.0,1139.5 600.0,1138.3 C606.0,1137.1 611.3,1133.4 616.0,1134.7 C620.7,1136.0 628.3,1141.7 628.3,1146.0 C628.3,1150.3 620.7,1157.5 616.0,1160.7 C611.3,1164.0 606.0,1164.2 600.0,1165.5 C594.0,1166.8 586.7,1167.9 580.0,1168.3 C573.3,1168.7 566.2,1168.9 560.0,1167.9 C553.8,1166.9 547.4,1164.6 543.0,1162.3 C538.6,1160.0 533.4,1158.1 533.4,1154.0 Z" fill="#000" filter="url(#b2_5)"/>
</g>
<rect x="236.10" y="1113.40" width="400.00" height="84.50" fill="none" stroke="#000" stroke-width="5.2"/>
<clipPath id="c10"><rect x="238.4" y="1229.7" width="394.7" height="69.8"/></clipPath>
<rect x="233.2" y="1224.5" width="405.1" height="80.2" fill="#e3e3e3"/>
<g clip-path="url(#c10)">
<ellipse cx="380.0" cy="1242.0" rx="55.0" ry="16.0" fill="#c9c9c9" filter="url(#b10)"/>
<ellipse cx="385.0" cy="1292.0" rx="50.0" ry="14.0" fill="#c9c9c9" filter="url(#b10)"/>
<path d="M239.0,1264.0 C239.0,1262.1 244.2,1258.8 248.0,1258.5 C251.8,1258.2 256.7,1262.2 262.0,1262.0 C267.3,1261.8 273.7,1258.2 280.0,1257.0 C286.3,1255.8 295.0,1254.0 300.0,1254.5 C305.0,1255.0 310.0,1257.9 310.0,1260.0 C310.0,1262.1 305.0,1265.7 300.0,1267.0 C295.0,1268.3 286.3,1267.9 280.0,1268.0 C273.7,1268.1 267.3,1267.2 262.0,1267.5 C256.7,1267.8 251.8,1270.6 248.0,1270.0 C244.2,1269.4 239.0,1265.9 239.0,1264.0 Z" fill="#000" filter="url(#b1_5)"/>
<path d="M334.0,1262.0 C334.0,1258.3 337.7,1249.7 342.0,1248.0 C346.3,1246.3 352.8,1251.2 360.0,1252.0 C367.2,1252.8 377.5,1253.3 385.0,1253.0 C392.5,1252.7 400.0,1250.8 405.0,1250.0 C410.0,1249.2 412.2,1247.0 415.0,1248.0 C417.8,1249.0 422.0,1252.7 422.0,1256.0 C422.0,1259.3 417.8,1265.3 415.0,1268.0 C412.2,1270.7 410.0,1270.9 405.0,1272.0 C400.0,1273.1 392.5,1274.0 385.0,1274.5 C377.5,1275.0 367.2,1275.8 360.0,1275.0 C352.8,1274.2 346.3,1272.2 342.0,1270.0 C337.7,1267.8 334.0,1265.7 334.0,1262.0 Z" fill="#000" filter="url(#b1_5)"/>
<path d="M441.0,1259.0 C441.0,1256.5 446.0,1252.4 450.0,1251.2 C454.0,1250.0 459.8,1250.6 465.0,1251.5 C470.2,1252.5 476.0,1256.8 481.0,1256.8 C486.0,1256.8 489.3,1252.6 495.0,1251.5 C500.7,1250.5 510.0,1249.6 515.0,1250.5 C520.0,1251.4 525.0,1254.7 525.0,1257.0 C525.0,1259.3 520.0,1263.3 515.0,1264.6 C510.0,1265.9 500.7,1264.8 495.0,1265.0 C489.3,1265.1 486.0,1265.2 481.0,1265.3 C476.0,1265.4 470.2,1265.5 465.0,1265.7 C459.8,1265.8 454.0,1267.1 450.0,1266.0 C446.0,1264.9 441.0,1261.5 441.0,1259.0 Z" fill="#000" filter="url(#b1_5)"/>
<path d="M551.0,1260.0 C551.0,1258.4 555.2,1255.8 560.0,1255.5 C564.8,1255.2 573.3,1257.2 580.0,1258.0 C586.7,1258.8 594.0,1260.5 600.0,1260.5 C606.0,1260.5 611.1,1257.6 616.0,1258.0 C620.9,1258.4 629.4,1261.2 629.4,1263.0 C629.4,1264.8 620.9,1268.0 616.0,1268.5 C611.1,1269.0 606.0,1266.4 600.0,1266.0 C594.0,1265.6 586.7,1266.2 580.0,1266.0 C573.3,1265.8 564.8,1266.0 560.0,1265.0 C555.2,1264.0 551.0,1261.6 551.0,1260.0 Z" fill="#080808" filter="url(#b1_5)"/>
</g>
<rect x="238.4" y="1297.9" width="394.7" height="1.6" fill="#fff"/>
<rect x="238.4" y="1229.7" width="394.7" height="1.4" fill="#fff"/>
<rect x="238.4" y="1229.7" width="1.4" height="69.8" fill="#fff"/>
<rect x="631.7" y="1229.7" width="1.4" height="69.8" fill="#fff"/>
<rect x="235.80" y="1227.10" width="399.90" height="75.00" fill="none" stroke="#000" stroke-width="5.2"/>
<clipPath id="c11"><rect x="238.0" y="1327.5" width="394.3" height="78.8"/></clipPath>
<rect x="232.8" y="1322.3" width="404.7" height="89.2" fill="#ffffff"/>
<g clip-path="url(#c11)">
<path d="M240.1,1358.0 C240.1,1355.3 243.3,1352.1 250.0,1350.7 C256.7,1349.2 270.0,1349.5 280.0,1349.2 C290.0,1349.0 303.0,1348.7 310.0,1348.9 C317.0,1349.1 319.3,1349.3 322.0,1350.7 C324.7,1352.0 326.4,1354.8 326.4,1357.0 C326.4,1359.2 324.7,1362.4 322.0,1363.8 C319.3,1365.2 317.0,1365.0 310.0,1365.2 C303.0,1365.4 290.0,1365.0 280.0,1365.2 C270.0,1365.4 256.7,1367.8 250.0,1366.6 C243.3,1365.4 240.1,1360.7 240.1,1358.0 Z" fill="#000" filter="url(#b2_5)"/>
<path d="M336.3,1357.0 C336.3,1354.3 338.5,1351.0 345.0,1349.9 C351.5,1348.8 365.0,1350.0 375.0,1350.2 C385.0,1350.5 397.5,1351.2 405.0,1351.7 C412.5,1352.1 416.5,1351.7 420.0,1353.1 C423.5,1354.4 426.0,1357.8 426.0,1360.0 C426.0,1362.2 423.5,1364.9 420.0,1366.2 C416.5,1367.5 412.5,1367.5 405.0,1367.6 C397.5,1367.7 385.0,1366.8 375.0,1366.5 C365.0,1366.3 351.5,1367.8 345.0,1366.2 C338.5,1364.6 336.3,1359.7 336.3,1357.0 Z" fill="#000" filter="url(#b2_5)"/>
<path d="M434.1,1361.0 C434.1,1358.2 439.0,1353.9 445.0,1352.7 C451.0,1351.4 461.7,1353.4 470.0,1353.4 C478.3,1353.3 488.0,1352.7 495.0,1352.3 C502.0,1351.9 506.8,1350.0 512.0,1350.9 C517.2,1351.9 526.2,1355.1 526.2,1358.0 C526.2,1360.9 517.2,1366.5 512.0,1368.5 C506.8,1370.5 502.0,1369.5 495.0,1369.9 C488.0,1370.2 478.3,1370.7 470.0,1370.6 C461.7,1370.5 451.0,1370.8 445.0,1369.2 C439.0,1367.6 434.1,1363.8 434.1,1361.0 Z" fill="#000" filter="url(#b2_5)"/>
<path d="M532.8,1359.0 C532.8,1356.2 535.8,1352.5 542.0,1351.1 C548.2,1349.7 560.3,1350.5 570.0,1350.4 C579.7,1350.3 590.8,1350.5 600.0,1350.8 C609.2,1351.0 619.6,1350.3 625.0,1351.8 C630.4,1353.3 632.4,1357.4 632.4,1360.0 C632.4,1362.6 630.4,1366.0 625.0,1367.5 C619.6,1369.0 609.2,1368.9 600.0,1369.2 C590.8,1369.6 579.7,1369.8 570.0,1369.6 C560.3,1369.4 548.2,1370.0 542.0,1368.2 C535.8,1366.4 532.8,1361.8 532.8,1359.0 Z" fill="#000" filter="url(#b2_5)"/>
</g>
<rect x="235.40" y="1324.90" width="399.50" height="84.00" fill="none" stroke="#000" stroke-width="5.2"/>
<rect x="864.50" y="315.10" width="73" height="211.20" fill="#000000"/>
<line x1="901.00" y1="315.10" x2="901.00" y2="293.98" stroke="#000" stroke-width="4" stroke-linecap="butt"/>
<line x1="883.25" y1="293.98" x2="918.75" y2="293.98" stroke="#000" stroke-width="4" stroke-linecap="round"/>
<rect x="974.20" y="484.06" width="73" height="42.24" fill="#8c8c8c"/>
<line x1="1010.70" y1="484.06" x2="1010.70" y2="462.94" stroke="#000" stroke-width="4" stroke-linecap="butt"/>
<line x1="992.95" y1="462.94" x2="1028.45" y2="462.94" stroke="#000" stroke-width="4" stroke-linecap="round"/>
<rect x="1083.90" y="468.43" width="73" height="57.87" fill="#696969"/>
<line x1="1120.40" y1="468.43" x2="1120.40" y2="454.49" stroke="#000" stroke-width="4" stroke-linecap="butt"/>
<line x1="1102.65" y1="454.49" x2="1138.15" y2="454.49" stroke="#000" stroke-width="4" stroke-linecap="round"/>
<rect x="1193.60" y="344.46" width="73" height="181.84" fill="#c9c9c9"/>
<line x1="1230.10" y1="344.46" x2="1230.10" y2="316.16" stroke="#000" stroke-width="4" stroke-linecap="butt"/>
<line x1="1212.35" y1="316.16" x2="1247.85" y2="316.16" stroke="#000" stroke-width="4" stroke-linecap="round"/>
<line x1="828.00" y1="207.00" x2="828.00" y2="529.00" stroke="#000" stroke-width="5.5" stroke-linecap="butt"/>
<line x1="819.50" y1="526.30" x2="1304.00" y2="526.30" stroke="#000" stroke-width="5.5" stroke-linecap="butt"/>
<line x1="819.50" y1="209.50" x2="828.00" y2="209.50" stroke="#000" stroke-width="5" stroke-linecap="butt"/>
<text transform="translate(783.52,218.00) scale(0.9400,1)" font-size="23.70" font-weight="bold">1.5</text>
<line x1="819.50" y1="315.10" x2="828.00" y2="315.10" stroke="#000" stroke-width="5" stroke-linecap="butt"/>
<text transform="translate(783.52,323.60) scale(0.9400,1)" font-size="23.70" font-weight="bold">1.0</text>
<line x1="819.50" y1="420.70" x2="828.00" y2="420.70" stroke="#000" stroke-width="5" stroke-linecap="butt"/>
<text transform="translate(783.52,429.20) scale(0.9400,1)" font-size="23.70" font-weight="bold">0.5</text>
<line x1="819.50" y1="526.30" x2="828.00" y2="526.30" stroke="#000" stroke-width="5" stroke-linecap="butt"/>
<text transform="translate(783.52,534.80) scale(0.9400,1)" font-size="23.70" font-weight="bold">0.0</text>
<line x1="901.00" y1="526.30" x2="901.00" y2="535.80" stroke="#000" stroke-width="5" stroke-linecap="butt"/>
<line x1="1010.70" y1="526.30" x2="1010.70" y2="535.80" stroke="#000" stroke-width="5" stroke-linecap="butt"/>
<line x1="1120.40" y1="526.30" x2="1120.40" y2="535.80" stroke="#000" stroke-width="5" stroke-linecap="butt"/>
<line x1="1230.10" y1="526.30" x2="1230.10" y2="535.80" stroke="#000" stroke-width="5" stroke-linecap="butt"/>
<text transform="translate(907.50,564.50) rotate(-45) scale(0.9200,1)" font-size="40.00" font-weight="bold" text-anchor="end">Control</text>
<text transform="translate(1018.40,564.50) rotate(-45) scale(0.9200,1)" font-size="40.00" font-weight="bold" text-anchor="end">LPS</text>
<text transform="translate(1128.10,564.50) rotate(-45) scale(0.9200,1)" font-size="40.00" font-weight="bold" text-anchor="end">SC-30</text>
<text transform="translate(1237.80,564.50) rotate(-45) scale(0.9200,1)" font-size="40.00" font-weight="bold" text-anchor="end">SC-60</text>
<path d="M904.0,280.0 L904.0,274.0 L979.5,274.0 L979.5,280.0" fill="none" stroke="#000" stroke-width="4.2" stroke-linecap="round" stroke-linejoin="miter"/>
<text transform="translate(925.51,265.50) scale(1.1200,1)" font-size="25.00" font-weight="bold" style="stroke:none">***</text>
<path d="M1010.0,242.2 L1010.0,236.2 L1229.5,236.2 L1229.5,242.2" fill="none" stroke="#000" stroke-width="4.2" stroke-linecap="round" stroke-linejoin="miter"/>
<text transform="translate(1114.15,227.70) scale(1.1200,1)" font-size="25.00" font-weight="bold" style="stroke:none">*</text>
<path d="M1012.3,278.5 L1012.3,272.5 L1087.0,272.5 L1087.0,278.5" fill="none" stroke="#000" stroke-width="4.2" stroke-linecap="round" stroke-linejoin="miter"/>
<text transform="translate(1044.05,264.00) scale(1.1200,1)" font-size="25.00" font-weight="bold" style="stroke:none">*</text>
<text transform="translate(1024.92,168.40) scale(0.8807,1)" font-size="33.14" font-weight="bold">SOD1</text>
<text transform="translate(772.70,593.80) rotate(-90) scale(0.9517,1)" font-size="29.20" font-weight="bold">Relative expression to Controls</text>
<rect x="1504.50" y="315.10" width="73" height="211.20" fill="#000000"/>
<line x1="1541.00" y1="315.10" x2="1541.00" y2="293.98" stroke="#000" stroke-width="4" stroke-linecap="butt"/>
<line x1="1523.25" y1="293.98" x2="1558.75" y2="293.98" stroke="#000" stroke-width="4" stroke-linecap="round"/>
<rect x="1614.20" y="490.61" width="73" height="35.69" fill="#8c8c8c"/>
<line x1="1650.70" y1="490.61" x2="1650.70" y2="470.33" stroke="#000" stroke-width="4" stroke-linecap="butt"/>
<line x1="1632.95" y1="470.33" x2="1668.45" y2="470.33" stroke="#000" stroke-width="4" stroke-linecap="round"/>
<rect x="1723.90" y="491.66" width="73" height="34.64" fill="#696969"/>
<line x1="1760.40" y1="491.66" x2="1760.40" y2="481.74" stroke="#000" stroke-width="4" stroke-linecap="butt"/>
<line x1="1742.65" y1="481.74" x2="1778.15" y2="481.74" stroke="#000" stroke-width="4" stroke-linecap="round"/>
<rect x="1833.60" y="346.36" width="73" height="179.94" fill="#c9c9c9"/>
<line x1="1870.10" y1="346.36" x2="1870.10" y2="334.53" stroke="#000" stroke-width="4" stroke-linecap="butt"/>
<line x1="1852.35" y1="334.53" x2="1887.85" y2="334.53" stroke="#000" stroke-width="4" stroke-linecap="round"/>
<line x1="1468.00" y1="207.00" x2="1468.00" y2="529.00" stroke="#000" stroke-width="5.5" stroke-linecap="butt"/>
<line x1="1459.50" y1="526.30" x2="1942.00" y2="526.30" stroke="#000" stroke-width="5.5" stroke-linecap="butt"/>
<line x1="1459.50" y1="209.50" x2="1468.00" y2="209.50" stroke="#000" stroke-width="5" stroke-linecap="butt"/>
<text transform="translate(1423.52,218.00) scale(0.9400,1)" font-size="23.70" font-weight="bold">1.5</text>
<line x1="1459.50" y1="315.10" x2="1468.00" y2="315.10" stroke="#000" stroke-width="5" stroke-linecap="butt"/>
<text transform="translate(1423.52,323.60) scale(0.9400,1)" font-size="23.70" font-weight="bold">1.0</text>
<line x1="1459.50" y1="420.70" x2="1468.00" y2="420.70" stroke="#000" stroke-width="5" stroke-linecap="butt"/>
<text transform="translate(1423.52,429.20) scale(0.9400,1)" font-size="23.70" font-weight="bold">0.5</text>
<line x1="1459.50" y1="526.30" x2="1468.00" y2="526.30" stroke="#000" stroke-width="5" stroke-linecap="butt"/>
<text transform="translate(1423.52,534.80) scale(0.9400,1)" font-size="23.70" font-weight="bold">0.0</text>
<line x1="1541.00" y1="526.30" x2="1541.00" y2="535.80" stroke="#000" stroke-width="5" stroke-linecap="butt"/>
<line x1="1650.70" y1="526.30" x2="1650.70" y2="535.80" stroke="#000" stroke-width="5" stroke-linecap="butt"/>
<line x1="1760.40" y1="526.30" x2="1760.40" y2="535.80" stroke="#000" stroke-width="5" stroke-linecap="butt"/>
<line x1="1870.10" y1="526.30" x2="1870.10" y2="535.80" stroke="#000" stroke-width="5" stroke-linecap="butt"/>
<text transform="translate(1547.50,564.50) rotate(-45) scale(0.9200,1)" font-size="40.00" font-weight="bold" text-anchor="end">Control</text>
<text transform="translate(1658.40,564.50) rotate(-45) scale(0.9200,1)" font-size="40.00" font-weight="bold" text-anchor="end">LPS</text>
<text transform="translate(1768.10,564.50) rotate(-45) scale(0.9200,1)" font-size="40.00" font-weight="bold" text-anchor="end">SC-30</text>
<text transform="translate(1877.80,564.50) rotate(-45) scale(0.9200,1)" font-size="40.00" font-weight="bold" text-anchor="end">SC-60</text>
<path d="M1544.0,280.0 L1544.0,274.0 L1619.5,274.0 L1619.5,280.0" fill="none" stroke="#000" stroke-width="4.2" stroke-linecap="round" stroke-linejoin="miter"/>
<text transform="translate(1565.51,265.50) scale(1.1200,1)" font-size="25.00" font-weight="bold" style="stroke:none">***</text>
<path d="M1650.0,242.2 L1650.0,236.2 L1869.5,236.2 L1869.5,242.2" fill="none" stroke="#000" stroke-width="4.2" stroke-linecap="round" stroke-linejoin="miter"/>
<text transform="translate(1754.15,227.70) scale(1.1200,1)" font-size="25.00" font-weight="bold" style="stroke:none">*</text>
<path d="M1652.3,278.5 L1652.3,272.5 L1727.0,272.5 L1727.0,278.5" fill="none" stroke="#000" stroke-width="4.2" stroke-linecap="round" stroke-linejoin="miter"/>
<text transform="translate(1684.05,264.00) scale(1.1200,1)" font-size="25.00" font-weight="bold" style="stroke:none">*</text>
<text transform="translate(1675.77,167.80) scale(0.9627,1)" font-size="31.03" font-weight="bold">Nrf2</text>
<text transform="translate(1408.40,594.20) rotate(-90) scale(0.9517,1)" font-size="29.20" font-weight="bold">Relative expression to Controls</text>
<rect x="2132.50" y="422.30" width="73" height="105.70" fill="#000000"/>
<line x1="2169.00" y1="422.30" x2="2169.00" y2="411.73" stroke="#000" stroke-width="4" stroke-linecap="butt"/>
<line x1="2151.25" y1="411.73" x2="2186.75" y2="411.73" stroke="#000" stroke-width="4" stroke-linecap="round"/>
<rect x="2242.20" y="260.58" width="73" height="267.42" fill="#8c8c8c"/>
<line x1="2278.70" y1="260.58" x2="2278.70" y2="232.57" stroke="#000" stroke-width="4" stroke-linecap="butt"/>
<line x1="2260.95" y1="232.57" x2="2296.45" y2="232.57" stroke="#000" stroke-width="4" stroke-linecap="round"/>
<rect x="2351.90" y="380.34" width="73" height="147.66" fill="#696969"/>
<line x1="2388.40" y1="380.34" x2="2388.40" y2="358.88" stroke="#000" stroke-width="4" stroke-linecap="butt"/>
<line x1="2370.65" y1="358.88" x2="2406.15" y2="358.88" stroke="#000" stroke-width="4" stroke-linecap="round"/>
<rect x="2461.60" y="408.56" width="73" height="119.44" fill="#c9c9c9"/>
<line x1="2498.10" y1="408.56" x2="2498.10" y2="385.73" stroke="#000" stroke-width="4" stroke-linecap="butt"/>
<line x1="2480.35" y1="385.73" x2="2515.85" y2="385.73" stroke="#000" stroke-width="4" stroke-linecap="round"/>
<line x1="2096.00" y1="208.40" x2="2096.00" y2="530.70" stroke="#000" stroke-width="5.5" stroke-linecap="butt"/>
<line x1="2087.50" y1="528.00" x2="2570.00" y2="528.00" stroke="#000" stroke-width="5.5" stroke-linecap="butt"/>
<line x1="2087.50" y1="210.90" x2="2096.00" y2="210.90" stroke="#000" stroke-width="5" stroke-linecap="butt"/>
<text transform="translate(2070.32,219.40) scale(0.9400,1)" font-size="23.70" font-weight="bold">3</text>
<line x1="2087.50" y1="316.60" x2="2096.00" y2="316.60" stroke="#000" stroke-width="5" stroke-linecap="butt"/>
<text transform="translate(2070.32,325.10) scale(0.9400,1)" font-size="23.70" font-weight="bold">2</text>
<line x1="2087.50" y1="422.30" x2="2096.00" y2="422.30" stroke="#000" stroke-width="5" stroke-linecap="butt"/>
<text transform="translate(2069.38,430.80) scale(0.9400,1)" font-size="23.70" font-weight="bold">1</text>
<line x1="2087.50" y1="528.00" x2="2096.00" y2="528.00" stroke="#000" stroke-width="5" stroke-linecap="butt"/>
<text transform="translate(2070.32,536.50) scale(0.9400,1)" font-size="23.70" font-weight="bold">0</text>
<line x1="2169.00" y1="528.00" x2="2169.00" y2="537.50" stroke="#000" stroke-width="5" stroke-linecap="butt"/>
<line x1="2278.70" y1="528.00" x2="2278.70" y2="537.50" stroke="#000" stroke-width="5" stroke-linecap="butt"/>
<line x1="2388.40" y1="528.00" x2="2388.40" y2="537.50" stroke="#000" stroke-width="5" stroke-linecap="butt"/>
<line x1="2498.10" y1="528.00" x2="2498.10" y2="537.50" stroke="#000" stroke-width="5" stroke-linecap="butt"/>
<text transform="translate(2175.50,566.20) rotate(-45) scale(0.9200,1)" font-size="40.00" font-weight="bold" text-anchor="end">Control</text>
<text transform="translate(2286.40,566.20) rotate(-45) scale(0.9200,1)" font-size="40.00" font-weight="bold" text-anchor="end">LPS</text>
<text transform="translate(2396.10,566.20) rotate(-45) scale(0.9200,1)" font-size="40.00" font-weight="bold" text-anchor="end">SC-30</text>
<text transform="translate(2505.80,566.20) rotate(-45) scale(0.9200,1)" font-size="40.00" font-weight="bold" text-anchor="end">SC-60</text>
<path d="M2173.0,216.7 L2173.0,210.7 L2247.5,210.7 L2247.5,216.7" fill="none" stroke="#000" stroke-width="4.2" stroke-linecap="round" stroke-linejoin="miter"/>
<text transform="translate(2199.61,202.20) scale(1.1200,1)" font-size="25.00" font-weight="bold" style="stroke:none">**</text>
<path d="M2278.5,179.4 L2278.5,173.4 L2498.5,173.4 L2498.5,179.4" fill="none" stroke="#000" stroke-width="4.2" stroke-linecap="round" stroke-linejoin="miter"/>
<text transform="translate(2382.90,164.90) scale(1.1200,1)" font-size="25.00" font-weight="bold" style="stroke:none">*</text>
<path d="M2280.8,215.8 L2280.8,209.8 L2356.0,209.8 L2356.0,215.8" fill="none" stroke="#000" stroke-width="4.2" stroke-linecap="round" stroke-linejoin="miter"/>
<text transform="translate(2312.80,201.30) scale(1.1200,1)" font-size="25.00" font-weight="bold" style="stroke:none">*</text>
<text transform="translate(2261.80,134.20) scale(0.9979,1)" font-size="30.07" font-weight="bold">p-Syk/Syk</text>
<text transform="translate(2053.50,510.31) rotate(-90) scale(0.9552,1)" font-size="29.20" font-weight="bold">Relative expression</text>
<rect x="864.50" y="1233.15" width="73" height="31.75" fill="#000000"/>
<line x1="901.00" y1="1233.15" x2="901.00" y2="1229.66" stroke="#000" stroke-width="4" stroke-linecap="butt"/>
<line x1="883.25" y1="1229.66" x2="918.75" y2="1229.66" stroke="#000" stroke-width="4" stroke-linecap="round"/>
<rect x="974.20" y="1035.35" width="73" height="229.55" fill="#8c8c8c"/>
<line x1="1010.70" y1="1035.35" x2="1010.70" y2="1020.74" stroke="#000" stroke-width="4" stroke-linecap="butt"/>
<line x1="992.95" y1="1020.74" x2="1028.45" y2="1020.74" stroke="#000" stroke-width="4" stroke-linecap="round"/>
<rect x="1083.90" y="1135.68" width="73" height="129.22" fill="#696969"/>
<line x1="1120.40" y1="1135.68" x2="1120.40" y2="1123.93" stroke="#000" stroke-width="4" stroke-linecap="butt"/>
<line x1="1102.65" y1="1123.93" x2="1138.15" y2="1123.93" stroke="#000" stroke-width="4" stroke-linecap="round"/>
<rect x="1193.60" y="1200.45" width="73" height="64.45" fill="#c9c9c9"/>
<line x1="1230.10" y1="1200.45" x2="1230.10" y2="1193.46" stroke="#000" stroke-width="4" stroke-linecap="butt"/>
<line x1="1212.35" y1="1193.46" x2="1247.85" y2="1193.46" stroke="#000" stroke-width="4" stroke-linecap="round"/>
<line x1="828.00" y1="944.90" x2="828.00" y2="1267.60" stroke="#000" stroke-width="5.5" stroke-linecap="butt"/>
<line x1="819.50" y1="1264.90" x2="1304.00" y2="1264.90" stroke="#000" stroke-width="5.5" stroke-linecap="butt"/>
<line x1="819.50" y1="947.40" x2="828.00" y2="947.40" stroke="#000" stroke-width="5" stroke-linecap="butt"/>
<text transform="translate(789.16,955.90) scale(0.9400,1)" font-size="23.70" font-weight="bold">10</text>
<line x1="819.50" y1="1010.90" x2="828.00" y2="1010.90" stroke="#000" stroke-width="5" stroke-linecap="butt"/>
<text transform="translate(802.32,1019.40) scale(0.9400,1)" font-size="23.70" font-weight="bold">8</text>
<line x1="819.50" y1="1074.40" x2="828.00" y2="1074.40" stroke="#000" stroke-width="5" stroke-linecap="butt"/>
<text transform="translate(802.32,1082.90) scale(0.9400,1)" font-size="23.70" font-weight="bold">6</text>
<line x1="819.50" y1="1137.90" x2="828.00" y2="1137.90" stroke="#000" stroke-width="5" stroke-linecap="butt"/>
<text transform="translate(801.38,1146.40) scale(0.9400,1)" font-size="23.70" font-weight="bold">4</text>
<line x1="819.50" y1="1201.40" x2="828.00" y2="1201.40" stroke="#000" stroke-width="5" stroke-linecap="butt"/>
<text transform="translate(802.32,1209.90) scale(0.9400,1)" font-size="23.70" font-weight="bold">2</text>
<line x1="819.50" y1="1264.90" x2="828.00" y2="1264.90" stroke="#000" stroke-width="5" stroke-linecap="butt"/>
<text transform="translate(802.32,1273.40) scale(0.9400,1)" font-size="23.70" font-weight="bold">0</text>
<line x1="901.00" y1="1264.90" x2="901.00" y2="1274.40" stroke="#000" stroke-width="5" stroke-linecap="butt"/>
<line x1="1010.70" y1="1264.90" x2="1010.70" y2="1274.40" stroke="#000" stroke-width="5" stroke-linecap="butt"/>
<line x1="1120.40" y1="1264.90" x2="1120.40" y2="1274.40" stroke="#000" stroke-width="5" stroke-linecap="butt"/>
<line x1="1230.10" y1="1264.90" x2="1230.10" y2="1274.40" stroke="#000" stroke-width="5" stroke-linecap="butt"/>
<text transform="translate(907.80,1301.10) rotate(-45) scale(0.9200,1)" font-size="37.50" font-weight="bold" text-anchor="end">Control</text>
<text transform="translate(1018.70,1301.10) rotate(-45) scale(0.9200,1)" font-size="37.50" font-weight="bold" text-anchor="end">LPS</text>
<text transform="translate(1128.40,1301.10) rotate(-45) scale(0.9200,1)" font-size="37.50" font-weight="bold" text-anchor="end">SC-30</text>
<text transform="translate(1238.10,1301.10) rotate(-45) scale(0.9200,1)" font-size="37.50" font-weight="bold" text-anchor="end">SC-60</text>
<path d="M905.7,1004.4 L905.7,998.4 L980.3,998.4 L980.3,1004.4" fill="none" stroke="#000" stroke-width="4.2" stroke-linecap="round" stroke-linejoin="miter"/>
<text transform="translate(926.76,989.90) scale(1.1200,1)" font-size="25.00" font-weight="bold" style="stroke:none">***</text>
<path d="M1010.5,966.3 L1010.5,960.3 L1230.5,960.3 L1230.5,966.3" fill="none" stroke="#000" stroke-width="4.2" stroke-linecap="round" stroke-linejoin="miter"/>
<text transform="translate(1114.90,951.80) scale(1.1200,1)" font-size="25.00" font-weight="bold" style="stroke:none">*</text>
<path d="M1013.4,1003.0 L1013.4,997.0 L1088.0,997.0 L1088.0,1003.0" fill="none" stroke="#000" stroke-width="4.2" stroke-linecap="round" stroke-linejoin="miter"/>
<text transform="translate(1045.10,988.50) scale(1.1200,1)" font-size="25.00" font-weight="bold" style="stroke:none">*</text>
<text transform="translate(994.15,906.40) scale(0.9771,1)" font-size="30.76" font-weight="bold">p-P38/P38</text>
<text transform="translate(774.30,1332.10) rotate(-90) scale(0.9515,1)" font-size="29.20" font-weight="bold">Relative expression to Controls</text>
<rect x="1503.90" y="1201.60" width="73" height="63.50" fill="#000000"/>
<line x1="1540.40" y1="1201.60" x2="1540.40" y2="1194.62" stroke="#000" stroke-width="4" stroke-linecap="butt"/>
<line x1="1522.65" y1="1194.62" x2="1558.15" y2="1194.62" stroke="#000" stroke-width="4" stroke-linecap="round"/>
<rect x="1613.60" y="993.95" width="73" height="271.14" fill="#8c8c8c"/>
<line x1="1650.10" y1="993.95" x2="1650.10" y2="973.63" stroke="#000" stroke-width="4" stroke-linecap="butt"/>
<line x1="1632.35" y1="973.63" x2="1667.85" y2="973.63" stroke="#000" stroke-width="4" stroke-linecap="round"/>
<rect x="1723.30" y="1102.22" width="73" height="162.88" fill="#696969"/>
<line x1="1759.80" y1="1102.22" x2="1759.80" y2="1092.38" stroke="#000" stroke-width="4" stroke-linecap="butt"/>
<line x1="1742.05" y1="1092.38" x2="1777.55" y2="1092.38" stroke="#000" stroke-width="4" stroke-linecap="round"/>
<rect x="1833.00" y="1167.63" width="73" height="97.47" fill="#c9c9c9"/>
<line x1="1869.50" y1="1167.63" x2="1869.50" y2="1157.15" stroke="#000" stroke-width="4" stroke-linecap="butt"/>
<line x1="1851.75" y1="1157.15" x2="1887.25" y2="1157.15" stroke="#000" stroke-width="4" stroke-linecap="round"/>
<line x1="1467.40" y1="945.10" x2="1467.40" y2="1267.80" stroke="#000" stroke-width="5.5" stroke-linecap="butt"/>
<line x1="1458.90" y1="1265.10" x2="1942.00" y2="1265.10" stroke="#000" stroke-width="5.5" stroke-linecap="butt"/>
<line x1="1458.90" y1="947.60" x2="1467.40" y2="947.60" stroke="#000" stroke-width="5" stroke-linecap="butt"/>
<text transform="translate(1440.78,956.10) scale(0.9400,1)" font-size="23.70" font-weight="bold">5</text>
<line x1="1458.90" y1="1011.10" x2="1467.40" y2="1011.10" stroke="#000" stroke-width="5" stroke-linecap="butt"/>
<text transform="translate(1440.78,1019.60) scale(0.9400,1)" font-size="23.70" font-weight="bold">4</text>
<line x1="1458.90" y1="1074.60" x2="1467.40" y2="1074.60" stroke="#000" stroke-width="5" stroke-linecap="butt"/>
<text transform="translate(1441.72,1083.10) scale(0.9400,1)" font-size="23.70" font-weight="bold">3</text>
<line x1="1458.90" y1="1138.10" x2="1467.40" y2="1138.10" stroke="#000" stroke-width="5" stroke-linecap="butt"/>
<text transform="translate(1441.72,1146.60) scale(0.9400,1)" font-size="23.70" font-weight="bold">2</text>
<line x1="1458.90" y1="1201.60" x2="1467.40" y2="1201.60" stroke="#000" stroke-width="5" stroke-linecap="butt"/>
<text transform="translate(1440.78,1210.10) scale(0.9400,1)" font-size="23.70" font-weight="bold">1</text>
<line x1="1458.90" y1="1265.10" x2="1467.40" y2="1265.10" stroke="#000" stroke-width="5" stroke-linecap="butt"/>
<text transform="translate(1441.72,1273.60) scale(0.9400,1)" font-size="23.70" font-weight="bold">0</text>
<line x1="1540.40" y1="1265.10" x2="1540.40" y2="1274.60" stroke="#000" stroke-width="5" stroke-linecap="butt"/>
<line x1="1650.10" y1="1265.10" x2="1650.10" y2="1274.60" stroke="#000" stroke-width="5" stroke-linecap="butt"/>
<line x1="1759.80" y1="1265.10" x2="1759.80" y2="1274.60" stroke="#000" stroke-width="5" stroke-linecap="butt"/>
<line x1="1869.50" y1="1265.10" x2="1869.50" y2="1274.60" stroke="#000" stroke-width="5" stroke-linecap="butt"/>
<text transform="translate(1547.20,1301.30) rotate(-45) scale(0.9200,1)" font-size="37.50" font-weight="bold" text-anchor="end">Control</text>
<text transform="translate(1658.10,1301.30) rotate(-45) scale(0.9200,1)" font-size="37.50" font-weight="bold" text-anchor="end">LPS</text>
<text transform="translate(1767.80,1301.30) rotate(-45) scale(0.9200,1)" font-size="37.50" font-weight="bold" text-anchor="end">SC-30</text>
<text transform="translate(1877.50,1301.30) rotate(-45) scale(0.9200,1)" font-size="37.50" font-weight="bold" text-anchor="end">SC-60</text>
<path d="M1544.5,958.9 L1544.5,952.9 L1619.0,952.9 L1619.0,958.9" fill="none" stroke="#000" stroke-width="4.2" stroke-linecap="round" stroke-linejoin="miter"/>
<text transform="translate(1565.51,944.40) scale(1.1200,1)" font-size="25.00" font-weight="bold" style="stroke:none">***</text>
<path d="M1650.0,921.2 L1650.0,915.2 L1869.0,915.2 L1869.0,921.2" fill="none" stroke="#000" stroke-width="4.2" stroke-linecap="round" stroke-linejoin="miter"/>
<text transform="translate(1753.90,906.70) scale(1.1200,1)" font-size="25.00" font-weight="bold" style="stroke:none">*</text>
<path d="M1653.0,958.9 L1653.0,952.9 L1728.0,952.9 L1728.0,958.9" fill="none" stroke="#000" stroke-width="4.2" stroke-linecap="round" stroke-linejoin="miter"/>
<text transform="translate(1684.90,944.40) scale(1.1200,1)" font-size="25.00" font-weight="bold" style="stroke:none">*</text>
<text transform="translate(1595.96,871.60) scale(0.9712,1)" font-size="31.03" font-weight="bold">p-STAT3/STAT3</text>
<text transform="translate(1426.90,1333.20) rotate(-90) scale(0.9517,1)" font-size="29.20" font-weight="bold">Relative expression to Controls</text>
<rect x="2130.50" y="1224.70" width="73" height="39.60" fill="#000000"/>
<line x1="2167.00" y1="1224.70" x2="2167.00" y2="1220.74" stroke="#000" stroke-width="4" stroke-linecap="butt"/>
<line x1="2149.25" y1="1220.74" x2="2184.75" y2="1220.74" stroke="#000" stroke-width="4" stroke-linecap="round"/>
<rect x="2240.20" y="1038.58" width="73" height="225.72" fill="#8c8c8c"/>
<line x1="2276.70" y1="1038.58" x2="2276.70" y2="1007.30" stroke="#000" stroke-width="4" stroke-linecap="butt"/>
<line x1="2258.95" y1="1007.30" x2="2294.45" y2="1007.30" stroke="#000" stroke-width="4" stroke-linecap="round"/>
<rect x="2349.90" y="1126.49" width="73" height="137.81" fill="#696969"/>
<line x1="2386.40" y1="1126.49" x2="2386.40" y2="1117.78" stroke="#000" stroke-width="4" stroke-linecap="butt"/>
<line x1="2368.65" y1="1117.78" x2="2404.15" y2="1117.78" stroke="#000" stroke-width="4" stroke-linecap="round"/>
<rect x="2459.60" y="1213.22" width="73" height="51.08" fill="#c9c9c9"/>
<line x1="2496.10" y1="1213.22" x2="2496.10" y2="1209.26" stroke="#000" stroke-width="4" stroke-linecap="butt"/>
<line x1="2478.35" y1="1209.26" x2="2513.85" y2="1209.26" stroke="#000" stroke-width="4" stroke-linecap="round"/>
<line x1="2094.00" y1="945.00" x2="2094.00" y2="1267.00" stroke="#000" stroke-width="5.5" stroke-linecap="butt"/>
<line x1="2085.50" y1="1264.30" x2="2570.00" y2="1264.30" stroke="#000" stroke-width="5.5" stroke-linecap="butt"/>
<line x1="2085.50" y1="947.50" x2="2094.00" y2="947.50" stroke="#000" stroke-width="5" stroke-linecap="butt"/>
<text transform="translate(2068.32,956.00) scale(0.9400,1)" font-size="23.70" font-weight="bold">8</text>
<line x1="2085.50" y1="1026.70" x2="2094.00" y2="1026.70" stroke="#000" stroke-width="5" stroke-linecap="butt"/>
<text transform="translate(2068.32,1035.20) scale(0.9400,1)" font-size="23.70" font-weight="bold">6</text>
<line x1="2085.50" y1="1105.90" x2="2094.00" y2="1105.90" stroke="#000" stroke-width="5" stroke-linecap="butt"/>
<text transform="translate(2067.38,1114.40) scale(0.9400,1)" font-size="23.70" font-weight="bold">4</text>
<line x1="2085.50" y1="1185.10" x2="2094.00" y2="1185.10" stroke="#000" stroke-width="5" stroke-linecap="butt"/>
<text transform="translate(2068.32,1193.60) scale(0.9400,1)" font-size="23.70" font-weight="bold">2</text>
<line x1="2085.50" y1="1264.30" x2="2094.00" y2="1264.30" stroke="#000" stroke-width="5" stroke-linecap="butt"/>
<text transform="translate(2068.32,1272.80) scale(0.9400,1)" font-size="23.70" font-weight="bold">0</text>
<line x1="2167.00" y1="1264.30" x2="2167.00" y2="1273.80" stroke="#000" stroke-width="5" stroke-linecap="butt"/>
<line x1="2276.70" y1="1264.30" x2="2276.70" y2="1273.80" stroke="#000" stroke-width="5" stroke-linecap="butt"/>
<line x1="2386.40" y1="1264.30" x2="2386.40" y2="1273.80" stroke="#000" stroke-width="5" stroke-linecap="butt"/>
<line x1="2496.10" y1="1264.30" x2="2496.10" y2="1273.80" stroke="#000" stroke-width="5" stroke-linecap="butt"/>
<text transform="translate(2173.80,1300.50) rotate(-45) scale(0.9200,1)" font-size="37.50" font-weight="bold" text-anchor="end">Control</text>
<text transform="translate(2284.70,1300.50) rotate(-45) scale(0.9200,1)" font-size="37.50" font-weight="bold" text-anchor="end">LPS</text>
<text transform="translate(2394.40,1300.50) rotate(-45) scale(0.9200,1)" font-size="37.50" font-weight="bold" text-anchor="end">SC-30</text>
<text transform="translate(2504.10,1300.50) rotate(-45) scale(0.9200,1)" font-size="37.50" font-weight="bold" text-anchor="end">SC-60</text>
<path d="M2171.5,990.6 L2171.5,984.6 L2245.5,984.6 L2245.5,990.6" fill="none" stroke="#000" stroke-width="4.2" stroke-linecap="round" stroke-linejoin="miter"/>
<text transform="translate(2192.26,976.10) scale(1.1200,1)" font-size="25.00" font-weight="bold" style="stroke:none">***</text>
<path d="M2276.5,952.8 L2276.5,946.8 L2496.0,946.8 L2496.0,952.8" fill="none" stroke="#000" stroke-width="4.2" stroke-linecap="round" stroke-linejoin="miter"/>
<text transform="translate(2380.65,938.30) scale(1.1200,1)" font-size="25.00" font-weight="bold" style="stroke:none">*</text>
<path d="M2278.5,989.7 L2278.5,983.7 L2354.5,983.7 L2354.5,989.7" fill="none" stroke="#000" stroke-width="4.2" stroke-linecap="round" stroke-linejoin="miter"/>
<text transform="translate(2310.90,975.20) scale(1.1200,1)" font-size="25.00" font-weight="bold" style="stroke:none">*</text>
<text transform="translate(2252.72,906.70) scale(0.9898,1)" font-size="30.62" font-weight="bold">p-JNK/JNK</text>
<text transform="translate(2053.50,1333.00) rotate(-90) scale(0.9517,1)" font-size="29.20" font-weight="bold">Relative expression to Controls</text>
</g></svg></body></html>
